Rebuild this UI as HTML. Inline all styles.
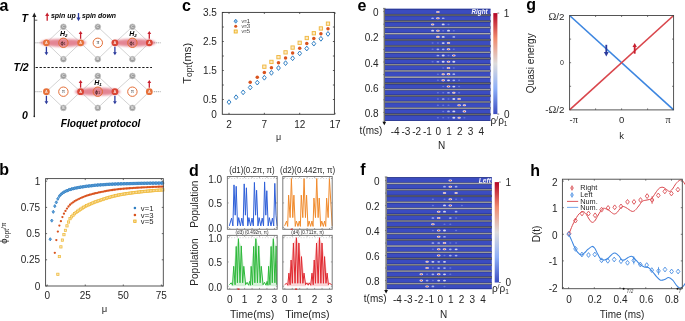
<!DOCTYPE html>
<html><head><meta charset="utf-8"><style>
html,body{margin:0;padding:0;background:#fff;width:685px;height:321px;overflow:hidden;}
svg{display:block;will-change:transform;font-family:"Liberation Sans",sans-serif;}
</style></head><body>
<svg width="685" height="321" viewBox="0 0 685 321">
<defs>
<filter id="blur1" x="-20%" y="-50%" width="140%" height="200%"><feGaussianBlur stdDeviation="1.2"/></filter>
<filter id="blur05" x="-50%" y="-50%" width="200%" height="200%"><feGaussianBlur stdDeviation="0.5"/></filter>
<linearGradient id="cbar" x1="0" y1="0" x2="0" y2="1">
<stop offset="0" stop-color="#b40426"/><stop offset="0.25" stop-color="#f08b6e"/><stop offset="0.5" stop-color="#dddcdc"/><stop offset="0.75" stop-color="#8caff8"/><stop offset="1" stop-color="#3b4cc0"/>
</linearGradient>
</defs>
<text x="-0.50" y="10.60" font-size="16" text-anchor="start" font-weight="bold" font-style="normal" fill="#000" >a</text>
<text x="-0.80" y="174.80" font-size="16" text-anchor="start" font-weight="bold" font-style="normal" fill="#000" >b</text>
<text x="182.00" y="10.50" font-size="16" text-anchor="start" font-weight="bold" font-style="normal" fill="#000" >c</text>
<text x="189.00" y="175.80" font-size="16" text-anchor="start" font-weight="bold" font-style="normal" fill="#000" >d</text>
<text x="357.50" y="11.00" font-size="16" text-anchor="start" font-weight="bold" font-style="normal" fill="#000" >e</text>
<text x="360.30" y="174.60" font-size="16" text-anchor="start" font-weight="bold" font-style="normal" fill="#000" >f</text>
<text x="526.30" y="9.50" font-size="16" text-anchor="start" font-weight="bold" font-style="normal" fill="#000" >g</text>
<text x="530.30" y="176.00" font-size="16" text-anchor="start" font-weight="bold" font-style="normal" fill="#000" >h</text>
<line x1="34.30" y1="116.40" x2="34.30" y2="15.50" stroke="#222" stroke-width="1.1" />
<path d="M32.199999999999996,16.9 L34.3,12.6 L36.4,16.9 Z" stroke="none" fill="#222" stroke-width="1" />
<circle cx="34.30" cy="116.40" r="0.80" fill="#222" stroke="none" stroke-width="1" />
<line x1="34.30" y1="20.20" x2="37.30" y2="20.20" stroke="#333" stroke-width="0.8" />
<text x="21.60" y="21.80" font-size="10.5" text-anchor="start" font-weight="bold" font-style="italic" fill="#000" >T</text>
<text x="13.50" y="71.00" font-size="10.5" text-anchor="start" font-weight="bold" font-style="italic" fill="#000" >T/2</text>
<text x="22.00" y="118.60" font-size="10.5" text-anchor="start" font-weight="bold" font-style="italic" fill="#000" >0</text>
<line x1="35.60" y1="67.50" x2="152.00" y2="67.50" stroke="#1a1a1a" stroke-width="1.0" stroke-dasharray="2.3,1.65"/>
<line x1="47.20" y1="20.80" x2="47.20" y2="15.28" stroke="#c8202f" stroke-width="1.3" />
<path d="M45.20,16.00 L47.20,12.40 L49.20,16.00 Z" stroke="none" fill="#c8202f" stroke-width="1" />
<text x="50.90" y="17.90" font-size="7.0" text-anchor="start" font-weight="bold" font-style="italic" fill="#000" >spin up</text>
<line x1="78.50" y1="13.00" x2="78.50" y2="18.32" stroke="#2b3a9c" stroke-width="1.3" />
<path d="M76.50,17.60 L78.50,21.20 L80.50,17.60 Z" stroke="none" fill="#2b3a9c" stroke-width="1" />
<text x="81.90" y="17.90" font-size="6.9" text-anchor="start" font-weight="bold" font-style="italic" fill="#000" >spin down</text>
<path d="M46.4,42.8 L63.4,26.8 L80.6,42.8 L63.4,59.2 Z" stroke="#c8c8c8" fill="none" stroke-width="0.8" />
<path d="M80.6,42.8 L97.8,26.8 L114.9,42.8 L97.8,59.2 Z" stroke="#c8c8c8" fill="none" stroke-width="0.8" />
<path d="M114.9,42.8 L132.4,26.8 L149.3,42.8 L132.4,59.2 Z" stroke="#c8c8c8" fill="none" stroke-width="0.8" />
<line x1="35.50" y1="42.80" x2="42.00" y2="42.80" stroke="#555" stroke-width="0.7" stroke-dasharray="0.9,1.1"/>
<line x1="153.80" y1="42.80" x2="160.50" y2="42.80" stroke="#555" stroke-width="0.7" stroke-dasharray="0.9,1.1"/>
<ellipse cx="63.2" cy="42.8" rx="23.0" ry="3.9" fill="#dc6476" opacity="0.78" filter="url(#blur1)"/>
<ellipse cx="133.6" cy="42.8" rx="22.0" ry="3.9" fill="#dc6476" opacity="0.78" filter="url(#blur1)"/>
<circle cx="63.40" cy="26.80" r="2.90" fill="#9c9c9c" stroke="#c4c4c4" stroke-width="0.7" />
<text x="63.40" y="28.00" font-size="3.4" text-anchor="middle" font-weight="bold" font-style="normal" fill="#eeeeee" >C</text>
<circle cx="63.40" cy="59.20" r="2.90" fill="#9c9c9c" stroke="#c4c4c4" stroke-width="0.7" />
<text x="63.40" y="60.40" font-size="3.4" text-anchor="middle" font-weight="bold" font-style="normal" fill="#eeeeee" >B</text>
<circle cx="97.80" cy="26.80" r="2.90" fill="#9c9c9c" stroke="#c4c4c4" stroke-width="0.7" />
<text x="97.80" y="28.00" font-size="3.4" text-anchor="middle" font-weight="bold" font-style="normal" fill="#eeeeee" >C</text>
<circle cx="97.80" cy="59.20" r="2.90" fill="#9c9c9c" stroke="#c4c4c4" stroke-width="0.7" />
<text x="97.80" y="60.40" font-size="3.4" text-anchor="middle" font-weight="bold" font-style="normal" fill="#eeeeee" >B</text>
<circle cx="132.40" cy="26.80" r="2.90" fill="#9c9c9c" stroke="#c4c4c4" stroke-width="0.7" />
<text x="132.40" y="28.00" font-size="3.4" text-anchor="middle" font-weight="bold" font-style="normal" fill="#eeeeee" >C</text>
<circle cx="132.40" cy="59.20" r="2.90" fill="#9c9c9c" stroke="#c4c4c4" stroke-width="0.7" />
<text x="132.40" y="60.40" font-size="3.4" text-anchor="middle" font-weight="bold" font-style="normal" fill="#eeeeee" >B</text>
<circle cx="63.40" cy="42.80" r="4.70" fill="#e07c86" stroke="#e2682f" stroke-width="0.95" fill-opacity="0.5"/>
<text x="63.00" y="44.70" font-size="5.8" text-anchor="middle" font-weight="normal" font-style="normal" fill="#2a1010" >ϕ<tspan font-size="3.2" dy="0.4">1</tspan></text>
<circle cx="97.80" cy="42.80" r="4.70" fill="#fff" stroke="#e2682f" stroke-width="0.95" />
<text x="97.80" y="44.30" font-size="5.6" text-anchor="middle" font-weight="normal" font-style="normal" fill="#333" font-family="Liberation Serif">π</text>
<circle cx="132.40" cy="42.80" r="4.70" fill="#e07c86" stroke="#e2682f" stroke-width="0.95" fill-opacity="0.5"/>
<text x="132.00" y="44.70" font-size="5.8" text-anchor="middle" font-weight="normal" font-style="normal" fill="#2a1010" >ϕ<tspan font-size="3.2" dy="0.4">1</tspan></text>
<circle cx="46.40" cy="42.80" r="3.40" fill="#e6713b" stroke="none" stroke-width="1" />
<text x="46.40" y="44.10" font-size="3.8" text-anchor="middle" font-weight="bold" font-style="normal" fill="#fbe3da" >A</text>
<circle cx="80.60" cy="42.80" r="3.40" fill="#e6713b" stroke="none" stroke-width="1" />
<text x="80.60" y="44.10" font-size="3.8" text-anchor="middle" font-weight="bold" font-style="normal" fill="#fbe3da" >A</text>
<circle cx="114.90" cy="42.80" r="3.40" fill="#da4636" stroke="none" stroke-width="1" />
<text x="114.90" y="44.10" font-size="3.8" text-anchor="middle" font-weight="bold" font-style="normal" fill="#fbe3da" >A</text>
<circle cx="149.30" cy="42.80" r="3.40" fill="#da4636" stroke="none" stroke-width="1" />
<text x="149.30" y="44.10" font-size="3.8" text-anchor="middle" font-weight="bold" font-style="normal" fill="#fbe3da" >A</text>
<line x1="46.40" y1="46.80" x2="46.40" y2="52.90" stroke="#2b3a9c" stroke-width="1.3" />
<path d="M44.50,52.30 L46.40,55.30 L48.30,52.30 Z" stroke="none" fill="#2b3a9c" stroke-width="1" />
<line x1="80.60" y1="38.80" x2="80.60" y2="33.40" stroke="#c8202f" stroke-width="1.3" />
<path d="M78.70,34.00 L80.60,31.00 L82.50,34.00 Z" stroke="none" fill="#c8202f" stroke-width="1" />
<line x1="114.90" y1="46.80" x2="114.90" y2="52.90" stroke="#2b3a9c" stroke-width="1.3" />
<path d="M113.00,52.30 L114.90,55.30 L116.80,52.30 Z" stroke="none" fill="#2b3a9c" stroke-width="1" />
<line x1="149.30" y1="38.80" x2="149.30" y2="33.40" stroke="#c8202f" stroke-width="1.3" />
<path d="M147.40,34.00 L149.30,31.00 L151.20,34.00 Z" stroke="none" fill="#c8202f" stroke-width="1" />
<path d="M46.4,91.7 L63.4,76.0 L80.6,91.7 L63.4,107.9 Z" stroke="#c8c8c8" fill="none" stroke-width="0.8" />
<path d="M80.6,91.7 L97.8,76.0 L114.9,91.7 L97.8,107.9 Z" stroke="#c8c8c8" fill="none" stroke-width="0.8" />
<path d="M114.9,91.7 L132.4,76.0 L149.3,91.7 L132.4,107.9 Z" stroke="#c8c8c8" fill="none" stroke-width="0.8" />
<line x1="35.50" y1="91.70" x2="42.00" y2="91.70" stroke="#555" stroke-width="0.7" stroke-dasharray="0.9,1.1"/>
<line x1="153.80" y1="91.70" x2="160.50" y2="91.70" stroke="#555" stroke-width="0.7" stroke-dasharray="0.9,1.1"/>
<ellipse cx="97.7" cy="91.7" rx="22.8" ry="3.9" fill="#dc6476" opacity="0.78" filter="url(#blur1)"/>
<circle cx="63.40" cy="76.00" r="2.90" fill="#9c9c9c" stroke="#c4c4c4" stroke-width="0.7" />
<text x="63.40" y="77.20" font-size="3.4" text-anchor="middle" font-weight="bold" font-style="normal" fill="#eeeeee" >C</text>
<circle cx="63.40" cy="107.90" r="2.90" fill="#9c9c9c" stroke="#c4c4c4" stroke-width="0.7" />
<text x="63.40" y="109.10" font-size="3.4" text-anchor="middle" font-weight="bold" font-style="normal" fill="#eeeeee" >B</text>
<circle cx="97.80" cy="76.00" r="2.90" fill="#9c9c9c" stroke="#c4c4c4" stroke-width="0.7" />
<text x="97.80" y="77.20" font-size="3.4" text-anchor="middle" font-weight="bold" font-style="normal" fill="#eeeeee" >C</text>
<circle cx="97.80" cy="107.90" r="2.90" fill="#9c9c9c" stroke="#c4c4c4" stroke-width="0.7" />
<text x="97.80" y="109.10" font-size="3.4" text-anchor="middle" font-weight="bold" font-style="normal" fill="#eeeeee" >B</text>
<circle cx="132.40" cy="76.00" r="2.90" fill="#9c9c9c" stroke="#c4c4c4" stroke-width="0.7" />
<text x="132.40" y="77.20" font-size="3.4" text-anchor="middle" font-weight="bold" font-style="normal" fill="#eeeeee" >C</text>
<circle cx="132.40" cy="107.90" r="2.90" fill="#9c9c9c" stroke="#c4c4c4" stroke-width="0.7" />
<text x="132.40" y="109.10" font-size="3.4" text-anchor="middle" font-weight="bold" font-style="normal" fill="#eeeeee" >B</text>
<circle cx="63.40" cy="91.70" r="4.70" fill="#fff" stroke="#e2682f" stroke-width="0.95" />
<text x="63.40" y="93.20" font-size="5.6" text-anchor="middle" font-weight="normal" font-style="normal" fill="#333" font-family="Liberation Serif">π</text>
<circle cx="97.80" cy="91.70" r="4.70" fill="#e07c86" stroke="#e2682f" stroke-width="0.95" fill-opacity="0.5"/>
<text x="97.40" y="93.60" font-size="5.8" text-anchor="middle" font-weight="normal" font-style="normal" fill="#2a1010" >ϕ<tspan font-size="3.2" dy="0.4">1</tspan></text>
<circle cx="132.40" cy="91.70" r="4.70" fill="#fff" stroke="#e2682f" stroke-width="0.95" />
<text x="132.40" y="93.20" font-size="5.6" text-anchor="middle" font-weight="normal" font-style="normal" fill="#333" font-family="Liberation Serif">π</text>
<circle cx="46.40" cy="91.70" r="3.40" fill="#e6713b" stroke="none" stroke-width="1" />
<text x="46.40" y="93.00" font-size="3.8" text-anchor="middle" font-weight="bold" font-style="normal" fill="#fbe3da" >A</text>
<circle cx="80.60" cy="91.70" r="3.40" fill="#da4636" stroke="none" stroke-width="1" />
<text x="80.60" y="93.00" font-size="3.8" text-anchor="middle" font-weight="bold" font-style="normal" fill="#fbe3da" >A</text>
<circle cx="114.90" cy="91.70" r="3.40" fill="#da4636" stroke="none" stroke-width="1" />
<text x="114.90" y="93.00" font-size="3.8" text-anchor="middle" font-weight="bold" font-style="normal" fill="#fbe3da" >A</text>
<circle cx="149.30" cy="91.70" r="3.40" fill="#e6713b" stroke="none" stroke-width="1" />
<text x="149.30" y="93.00" font-size="3.8" text-anchor="middle" font-weight="bold" font-style="normal" fill="#fbe3da" >A</text>
<line x1="46.40" y1="95.70" x2="46.40" y2="101.80" stroke="#2b3a9c" stroke-width="1.3" />
<path d="M44.50,101.20 L46.40,104.20 L48.30,101.20 Z" stroke="none" fill="#2b3a9c" stroke-width="1" />
<line x1="80.60" y1="87.70" x2="80.60" y2="82.30" stroke="#c8202f" stroke-width="1.3" />
<path d="M78.70,82.90 L80.60,79.90 L82.50,82.90 Z" stroke="none" fill="#c8202f" stroke-width="1" />
<line x1="114.90" y1="95.70" x2="114.90" y2="101.80" stroke="#2b3a9c" stroke-width="1.3" />
<path d="M113.00,101.20 L114.90,104.20 L116.80,101.20 Z" stroke="none" fill="#2b3a9c" stroke-width="1" />
<line x1="149.30" y1="87.70" x2="149.30" y2="82.30" stroke="#c8202f" stroke-width="1.3" />
<path d="M147.40,82.90 L149.30,79.90 L151.20,82.90 Z" stroke="none" fill="#c8202f" stroke-width="1" />
<text x="59.90" y="35.70" font-size="7.0" text-anchor="start" font-weight="bold" font-style="italic" fill="#000" >H<tspan font-size="4.4" dy="1.2">2</tspan></text>
<text x="129.30" y="35.70" font-size="7.0" text-anchor="start" font-weight="bold" font-style="italic" fill="#000" >H<tspan font-size="4.4" dy="1.2">2</tspan></text>
<text x="94.20" y="85.10" font-size="7.0" text-anchor="start" font-weight="bold" font-style="italic" fill="#000" >H<tspan font-size="4.4" dy="1.2">1</tspan></text>
<text x="60.80" y="126.60" font-size="10.1" text-anchor="start" font-weight="bold" font-style="italic" fill="#000" >Floquet protocol</text>
<rect x="56.70" y="273.17" width="2.30" height="2.30" fill="#fae6bb" stroke="#efbb3c" stroke-width="0.75" />
<rect x="58.23" y="255.37" width="2.30" height="2.30" fill="#fae6bb" stroke="#efbb3c" stroke-width="0.75" />
<rect x="59.75" y="245.72" width="2.30" height="2.30" fill="#fae6bb" stroke="#efbb3c" stroke-width="0.75" />
<rect x="61.27" y="238.95" width="2.30" height="2.30" fill="#fae6bb" stroke="#efbb3c" stroke-width="0.75" />
<rect x="62.79" y="233.50" width="2.30" height="2.30" fill="#fae6bb" stroke="#efbb3c" stroke-width="0.75" />
<rect x="64.31" y="229.22" width="2.30" height="2.30" fill="#fae6bb" stroke="#efbb3c" stroke-width="0.75" />
<rect x="65.84" y="224.71" width="2.30" height="2.30" fill="#fae6bb" stroke="#efbb3c" stroke-width="0.75" />
<rect x="67.36" y="220.85" width="2.30" height="2.30" fill="#fae6bb" stroke="#efbb3c" stroke-width="0.75" />
<rect x="68.88" y="217.50" width="2.30" height="2.30" fill="#fae6bb" stroke="#efbb3c" stroke-width="0.75" />
<rect x="70.40" y="215.64" width="2.30" height="2.30" fill="#fae6bb" stroke="#efbb3c" stroke-width="0.75" />
<rect x="71.92" y="214.01" width="2.30" height="2.30" fill="#fae6bb" stroke="#efbb3c" stroke-width="0.75" />
<rect x="73.45" y="212.55" width="2.30" height="2.30" fill="#fae6bb" stroke="#efbb3c" stroke-width="0.75" />
<rect x="74.97" y="211.25" width="2.30" height="2.30" fill="#fae6bb" stroke="#efbb3c" stroke-width="0.75" />
<rect x="76.49" y="210.08" width="2.30" height="2.30" fill="#fae6bb" stroke="#efbb3c" stroke-width="0.75" />
<rect x="78.01" y="209.02" width="2.30" height="2.30" fill="#fae6bb" stroke="#efbb3c" stroke-width="0.75" />
<rect x="79.53" y="208.01" width="2.30" height="2.30" fill="#fae6bb" stroke="#efbb3c" stroke-width="0.75" />
<rect x="81.06" y="207.01" width="2.30" height="2.30" fill="#fae6bb" stroke="#efbb3c" stroke-width="0.75" />
<rect x="82.58" y="206.10" width="2.30" height="2.30" fill="#fae6bb" stroke="#efbb3c" stroke-width="0.75" />
<rect x="84.10" y="205.25" width="2.30" height="2.30" fill="#fae6bb" stroke="#efbb3c" stroke-width="0.75" />
<rect x="85.62" y="204.48" width="2.30" height="2.30" fill="#fae6bb" stroke="#efbb3c" stroke-width="0.75" />
<rect x="87.14" y="203.76" width="2.30" height="2.30" fill="#fae6bb" stroke="#efbb3c" stroke-width="0.75" />
<rect x="88.67" y="203.09" width="2.30" height="2.30" fill="#fae6bb" stroke="#efbb3c" stroke-width="0.75" />
<rect x="90.19" y="202.42" width="2.30" height="2.30" fill="#fae6bb" stroke="#efbb3c" stroke-width="0.75" />
<rect x="91.71" y="201.76" width="2.30" height="2.30" fill="#fae6bb" stroke="#efbb3c" stroke-width="0.75" />
<rect x="93.23" y="201.15" width="2.30" height="2.30" fill="#fae6bb" stroke="#efbb3c" stroke-width="0.75" />
<rect x="94.75" y="200.58" width="2.30" height="2.30" fill="#fae6bb" stroke="#efbb3c" stroke-width="0.75" />
<rect x="96.28" y="200.05" width="2.30" height="2.30" fill="#fae6bb" stroke="#efbb3c" stroke-width="0.75" />
<rect x="97.80" y="199.54" width="2.30" height="2.30" fill="#fae6bb" stroke="#efbb3c" stroke-width="0.75" />
<rect x="99.32" y="199.06" width="2.30" height="2.30" fill="#fae6bb" stroke="#efbb3c" stroke-width="0.75" />
<rect x="100.84" y="198.50" width="2.30" height="2.30" fill="#fae6bb" stroke="#efbb3c" stroke-width="0.75" />
<rect x="102.36" y="197.96" width="2.30" height="2.30" fill="#fae6bb" stroke="#efbb3c" stroke-width="0.75" />
<rect x="103.89" y="197.45" width="2.30" height="2.30" fill="#fae6bb" stroke="#efbb3c" stroke-width="0.75" />
<rect x="105.41" y="196.97" width="2.30" height="2.30" fill="#fae6bb" stroke="#efbb3c" stroke-width="0.75" />
<rect x="106.93" y="196.52" width="2.30" height="2.30" fill="#fae6bb" stroke="#efbb3c" stroke-width="0.75" />
<rect x="108.45" y="196.08" width="2.30" height="2.30" fill="#fae6bb" stroke="#efbb3c" stroke-width="0.75" />
<rect x="109.97" y="195.67" width="2.30" height="2.30" fill="#fae6bb" stroke="#efbb3c" stroke-width="0.75" />
<rect x="111.50" y="195.27" width="2.30" height="2.30" fill="#fae6bb" stroke="#efbb3c" stroke-width="0.75" />
<rect x="113.02" y="194.89" width="2.30" height="2.30" fill="#fae6bb" stroke="#efbb3c" stroke-width="0.75" />
<rect x="114.54" y="194.53" width="2.30" height="2.30" fill="#fae6bb" stroke="#efbb3c" stroke-width="0.75" />
<rect x="116.06" y="194.19" width="2.30" height="2.30" fill="#fae6bb" stroke="#efbb3c" stroke-width="0.75" />
<rect x="117.58" y="193.86" width="2.30" height="2.30" fill="#fae6bb" stroke="#efbb3c" stroke-width="0.75" />
<rect x="119.11" y="193.54" width="2.30" height="2.30" fill="#fae6bb" stroke="#efbb3c" stroke-width="0.75" />
<rect x="120.63" y="193.28" width="2.30" height="2.30" fill="#fae6bb" stroke="#efbb3c" stroke-width="0.75" />
<rect x="122.15" y="193.02" width="2.30" height="2.30" fill="#fae6bb" stroke="#efbb3c" stroke-width="0.75" />
<rect x="123.67" y="192.78" width="2.30" height="2.30" fill="#fae6bb" stroke="#efbb3c" stroke-width="0.75" />
<rect x="125.19" y="192.54" width="2.30" height="2.30" fill="#fae6bb" stroke="#efbb3c" stroke-width="0.75" />
<rect x="126.72" y="192.31" width="2.30" height="2.30" fill="#fae6bb" stroke="#efbb3c" stroke-width="0.75" />
<rect x="128.24" y="192.09" width="2.30" height="2.30" fill="#fae6bb" stroke="#efbb3c" stroke-width="0.75" />
<rect x="129.76" y="191.88" width="2.30" height="2.30" fill="#fae6bb" stroke="#efbb3c" stroke-width="0.75" />
<rect x="131.28" y="191.68" width="2.30" height="2.30" fill="#fae6bb" stroke="#efbb3c" stroke-width="0.75" />
<rect x="132.80" y="191.48" width="2.30" height="2.30" fill="#fae6bb" stroke="#efbb3c" stroke-width="0.75" />
<rect x="134.33" y="191.29" width="2.30" height="2.30" fill="#fae6bb" stroke="#efbb3c" stroke-width="0.75" />
<rect x="135.85" y="191.11" width="2.30" height="2.30" fill="#fae6bb" stroke="#efbb3c" stroke-width="0.75" />
<rect x="137.37" y="190.93" width="2.30" height="2.30" fill="#fae6bb" stroke="#efbb3c" stroke-width="0.75" />
<rect x="138.89" y="190.76" width="2.30" height="2.30" fill="#fae6bb" stroke="#efbb3c" stroke-width="0.75" />
<rect x="140.41" y="190.60" width="2.30" height="2.30" fill="#fae6bb" stroke="#efbb3c" stroke-width="0.75" />
<rect x="141.94" y="190.44" width="2.30" height="2.30" fill="#fae6bb" stroke="#efbb3c" stroke-width="0.75" />
<rect x="143.46" y="190.28" width="2.30" height="2.30" fill="#fae6bb" stroke="#efbb3c" stroke-width="0.75" />
<rect x="144.98" y="190.13" width="2.30" height="2.30" fill="#fae6bb" stroke="#efbb3c" stroke-width="0.75" />
<rect x="146.50" y="189.99" width="2.30" height="2.30" fill="#fae6bb" stroke="#efbb3c" stroke-width="0.75" />
<rect x="148.02" y="189.84" width="2.30" height="2.30" fill="#fae6bb" stroke="#efbb3c" stroke-width="0.75" />
<rect x="149.55" y="189.71" width="2.30" height="2.30" fill="#fae6bb" stroke="#efbb3c" stroke-width="0.75" />
<rect x="151.07" y="189.57" width="2.30" height="2.30" fill="#fae6bb" stroke="#efbb3c" stroke-width="0.75" />
<rect x="152.59" y="189.44" width="2.30" height="2.30" fill="#fae6bb" stroke="#efbb3c" stroke-width="0.75" />
<rect x="154.11" y="189.32" width="2.30" height="2.30" fill="#fae6bb" stroke="#efbb3c" stroke-width="0.75" />
<rect x="155.63" y="189.20" width="2.30" height="2.30" fill="#fae6bb" stroke="#efbb3c" stroke-width="0.75" />
<rect x="157.16" y="189.08" width="2.30" height="2.30" fill="#fae6bb" stroke="#efbb3c" stroke-width="0.75" />
<rect x="158.68" y="188.96" width="2.30" height="2.30" fill="#fae6bb" stroke="#efbb3c" stroke-width="0.75" />
<rect x="160.20" y="188.85" width="2.30" height="2.30" fill="#fae6bb" stroke="#efbb3c" stroke-width="0.75" />
<rect x="161.72" y="188.74" width="2.30" height="2.30" fill="#fae6bb" stroke="#efbb3c" stroke-width="0.75" />
<circle cx="54.81" cy="252.78" r="1.15" fill="#d9531e" stroke="none" stroke-width="1" />
<circle cx="56.33" cy="240.10" r="1.15" fill="#d9531e" stroke="none" stroke-width="1" />
<circle cx="57.85" cy="231.61" r="1.15" fill="#d9531e" stroke="none" stroke-width="1" />
<circle cx="59.38" cy="225.53" r="1.15" fill="#d9531e" stroke="none" stroke-width="1" />
<circle cx="60.90" cy="221.13" r="1.15" fill="#d9531e" stroke="none" stroke-width="1" />
<circle cx="62.42" cy="217.03" r="1.15" fill="#d9531e" stroke="none" stroke-width="1" />
<circle cx="63.94" cy="213.68" r="1.15" fill="#d9531e" stroke="none" stroke-width="1" />
<circle cx="65.46" cy="210.89" r="1.15" fill="#d9531e" stroke="none" stroke-width="1" />
<circle cx="66.99" cy="208.53" r="1.15" fill="#d9531e" stroke="none" stroke-width="1" />
<circle cx="68.51" cy="206.50" r="1.15" fill="#d9531e" stroke="none" stroke-width="1" />
<circle cx="70.03" cy="204.75" r="1.15" fill="#d9531e" stroke="none" stroke-width="1" />
<circle cx="71.55" cy="203.44" r="1.15" fill="#d9531e" stroke="none" stroke-width="1" />
<circle cx="73.07" cy="202.29" r="1.15" fill="#d9531e" stroke="none" stroke-width="1" />
<circle cx="74.60" cy="201.27" r="1.15" fill="#d9531e" stroke="none" stroke-width="1" />
<circle cx="76.12" cy="200.36" r="1.15" fill="#d9531e" stroke="none" stroke-width="1" />
<circle cx="77.64" cy="199.53" r="1.15" fill="#d9531e" stroke="none" stroke-width="1" />
<circle cx="79.16" cy="198.79" r="1.15" fill="#d9531e" stroke="none" stroke-width="1" />
<circle cx="80.68" cy="198.09" r="1.15" fill="#d9531e" stroke="none" stroke-width="1" />
<circle cx="82.21" cy="197.41" r="1.15" fill="#d9531e" stroke="none" stroke-width="1" />
<circle cx="83.73" cy="196.78" r="1.15" fill="#d9531e" stroke="none" stroke-width="1" />
<circle cx="85.25" cy="196.21" r="1.15" fill="#d9531e" stroke="none" stroke-width="1" />
<circle cx="86.77" cy="195.68" r="1.15" fill="#d9531e" stroke="none" stroke-width="1" />
<circle cx="88.29" cy="195.19" r="1.15" fill="#d9531e" stroke="none" stroke-width="1" />
<circle cx="89.82" cy="194.74" r="1.15" fill="#d9531e" stroke="none" stroke-width="1" />
<circle cx="91.34" cy="194.30" r="1.15" fill="#d9531e" stroke="none" stroke-width="1" />
<circle cx="92.86" cy="193.88" r="1.15" fill="#d9531e" stroke="none" stroke-width="1" />
<circle cx="94.38" cy="193.49" r="1.15" fill="#d9531e" stroke="none" stroke-width="1" />
<circle cx="95.90" cy="193.13" r="1.15" fill="#d9531e" stroke="none" stroke-width="1" />
<circle cx="97.43" cy="192.79" r="1.15" fill="#d9531e" stroke="none" stroke-width="1" />
<circle cx="98.95" cy="192.46" r="1.15" fill="#d9531e" stroke="none" stroke-width="1" />
<circle cx="100.47" cy="192.16" r="1.15" fill="#d9531e" stroke="none" stroke-width="1" />
<circle cx="101.99" cy="191.83" r="1.15" fill="#d9531e" stroke="none" stroke-width="1" />
<circle cx="103.51" cy="191.53" r="1.15" fill="#d9531e" stroke="none" stroke-width="1" />
<circle cx="105.04" cy="191.24" r="1.15" fill="#d9531e" stroke="none" stroke-width="1" />
<circle cx="106.56" cy="190.96" r="1.15" fill="#d9531e" stroke="none" stroke-width="1" />
<circle cx="108.08" cy="190.70" r="1.15" fill="#d9531e" stroke="none" stroke-width="1" />
<circle cx="109.60" cy="190.45" r="1.15" fill="#d9531e" stroke="none" stroke-width="1" />
<circle cx="111.12" cy="190.21" r="1.15" fill="#d9531e" stroke="none" stroke-width="1" />
<circle cx="112.65" cy="189.99" r="1.15" fill="#d9531e" stroke="none" stroke-width="1" />
<circle cx="114.17" cy="189.77" r="1.15" fill="#d9531e" stroke="none" stroke-width="1" />
<circle cx="115.69" cy="189.56" r="1.15" fill="#d9531e" stroke="none" stroke-width="1" />
<circle cx="117.21" cy="189.36" r="1.15" fill="#d9531e" stroke="none" stroke-width="1" />
<circle cx="118.73" cy="189.18" r="1.15" fill="#d9531e" stroke="none" stroke-width="1" />
<circle cx="120.26" cy="188.99" r="1.15" fill="#d9531e" stroke="none" stroke-width="1" />
<circle cx="121.78" cy="188.86" r="1.15" fill="#d9531e" stroke="none" stroke-width="1" />
<circle cx="123.30" cy="188.73" r="1.15" fill="#d9531e" stroke="none" stroke-width="1" />
<circle cx="124.82" cy="188.61" r="1.15" fill="#d9531e" stroke="none" stroke-width="1" />
<circle cx="126.34" cy="188.49" r="1.15" fill="#d9531e" stroke="none" stroke-width="1" />
<circle cx="127.87" cy="188.38" r="1.15" fill="#d9531e" stroke="none" stroke-width="1" />
<circle cx="129.39" cy="188.27" r="1.15" fill="#d9531e" stroke="none" stroke-width="1" />
<circle cx="130.91" cy="188.16" r="1.15" fill="#d9531e" stroke="none" stroke-width="1" />
<circle cx="132.43" cy="188.06" r="1.15" fill="#d9531e" stroke="none" stroke-width="1" />
<circle cx="133.95" cy="187.96" r="1.15" fill="#d9531e" stroke="none" stroke-width="1" />
<circle cx="135.48" cy="187.86" r="1.15" fill="#d9531e" stroke="none" stroke-width="1" />
<circle cx="137.00" cy="187.77" r="1.15" fill="#d9531e" stroke="none" stroke-width="1" />
<circle cx="138.52" cy="187.68" r="1.15" fill="#d9531e" stroke="none" stroke-width="1" />
<circle cx="140.04" cy="187.60" r="1.15" fill="#d9531e" stroke="none" stroke-width="1" />
<circle cx="141.56" cy="187.51" r="1.15" fill="#d9531e" stroke="none" stroke-width="1" />
<circle cx="143.09" cy="187.43" r="1.15" fill="#d9531e" stroke="none" stroke-width="1" />
<circle cx="144.61" cy="187.35" r="1.15" fill="#d9531e" stroke="none" stroke-width="1" />
<circle cx="146.13" cy="187.28" r="1.15" fill="#d9531e" stroke="none" stroke-width="1" />
<circle cx="147.65" cy="187.21" r="1.15" fill="#d9531e" stroke="none" stroke-width="1" />
<circle cx="149.17" cy="187.13" r="1.15" fill="#d9531e" stroke="none" stroke-width="1" />
<circle cx="150.70" cy="187.07" r="1.15" fill="#d9531e" stroke="none" stroke-width="1" />
<circle cx="152.22" cy="187.00" r="1.15" fill="#d9531e" stroke="none" stroke-width="1" />
<circle cx="153.74" cy="186.93" r="1.15" fill="#d9531e" stroke="none" stroke-width="1" />
<circle cx="155.26" cy="186.87" r="1.15" fill="#d9531e" stroke="none" stroke-width="1" />
<circle cx="156.78" cy="186.81" r="1.15" fill="#d9531e" stroke="none" stroke-width="1" />
<circle cx="158.31" cy="186.75" r="1.15" fill="#d9531e" stroke="none" stroke-width="1" />
<circle cx="159.83" cy="186.69" r="1.15" fill="#d9531e" stroke="none" stroke-width="1" />
<circle cx="161.35" cy="186.63" r="1.15" fill="#d9531e" stroke="none" stroke-width="1" />
<circle cx="162.87" cy="186.58" r="1.15" fill="#d9531e" stroke="none" stroke-width="1" />
<path d="M50.24,237.66 L51.44,239.26 L50.24,240.86 L49.04,239.26 Z" stroke="#2f7ec2" fill="#5d9fd8" stroke-width="0.8" />
<path d="M51.77,219.00 L52.97,220.60 L51.77,222.20 L50.57,220.60 Z" stroke="#2f7ec2" fill="#5d9fd8" stroke-width="0.8" />
<path d="M53.29,210.20 L54.49,211.80 L53.29,213.40 L52.09,211.80 Z" stroke="#2f7ec2" fill="#5d9fd8" stroke-width="0.8" />
<path d="M54.81,204.54 L56.01,206.14 L54.81,207.74 L53.61,206.14 Z" stroke="#2f7ec2" fill="#5d9fd8" stroke-width="0.8" />
<path d="M56.33,200.77 L57.53,202.37 L56.33,203.97 L55.13,202.37 Z" stroke="#2f7ec2" fill="#5d9fd8" stroke-width="0.8" />
<path d="M57.85,197.21 L59.05,198.81 L57.85,200.41 L56.65,198.81 Z" stroke="#2f7ec2" fill="#5d9fd8" stroke-width="0.8" />
<path d="M59.38,194.54 L60.58,196.14 L59.38,197.74 L58.18,196.14 Z" stroke="#2f7ec2" fill="#5d9fd8" stroke-width="0.8" />
<path d="M60.90,192.83 L62.10,194.43 L60.90,196.03 L59.70,194.43 Z" stroke="#2f7ec2" fill="#5d9fd8" stroke-width="0.8" />
<path d="M62.42,191.60 L63.62,193.20 L62.42,194.80 L61.22,193.20 Z" stroke="#2f7ec2" fill="#5d9fd8" stroke-width="0.8" />
<path d="M63.94,190.60 L65.14,192.20 L63.94,193.80 L62.74,192.20 Z" stroke="#2f7ec2" fill="#5d9fd8" stroke-width="0.8" />
<path d="M65.46,189.76 L66.66,191.36 L65.46,192.96 L64.26,191.36 Z" stroke="#2f7ec2" fill="#5d9fd8" stroke-width="0.8" />
<path d="M66.99,189.05 L68.19,190.65 L66.99,192.25 L65.79,190.65 Z" stroke="#2f7ec2" fill="#5d9fd8" stroke-width="0.8" />
<path d="M68.51,188.44 L69.71,190.04 L68.51,191.64 L67.31,190.04 Z" stroke="#2f7ec2" fill="#5d9fd8" stroke-width="0.8" />
<path d="M70.03,187.91 L71.23,189.51 L70.03,191.11 L68.83,189.51 Z" stroke="#2f7ec2" fill="#5d9fd8" stroke-width="0.8" />
<path d="M71.55,187.45 L72.75,189.05 L71.55,190.65 L70.35,189.05 Z" stroke="#2f7ec2" fill="#5d9fd8" stroke-width="0.8" />
<path d="M73.07,187.05 L74.27,188.65 L73.07,190.25 L71.87,188.65 Z" stroke="#2f7ec2" fill="#5d9fd8" stroke-width="0.8" />
<path d="M74.60,186.69 L75.80,188.29 L74.60,189.89 L73.40,188.29 Z" stroke="#2f7ec2" fill="#5d9fd8" stroke-width="0.8" />
<path d="M76.12,186.36 L77.32,187.96 L76.12,189.56 L74.92,187.96 Z" stroke="#2f7ec2" fill="#5d9fd8" stroke-width="0.8" />
<path d="M77.64,186.07 L78.84,187.67 L77.64,189.27 L76.44,187.67 Z" stroke="#2f7ec2" fill="#5d9fd8" stroke-width="0.8" />
<path d="M79.16,185.81 L80.36,187.41 L79.16,189.01 L77.96,187.41 Z" stroke="#2f7ec2" fill="#5d9fd8" stroke-width="0.8" />
<path d="M80.68,185.55 L81.88,187.15 L80.68,188.75 L79.48,187.15 Z" stroke="#2f7ec2" fill="#5d9fd8" stroke-width="0.8" />
<path d="M82.21,185.30 L83.41,186.90 L82.21,188.50 L81.01,186.90 Z" stroke="#2f7ec2" fill="#5d9fd8" stroke-width="0.8" />
<path d="M83.73,185.06 L84.93,186.66 L83.73,188.26 L82.53,186.66 Z" stroke="#2f7ec2" fill="#5d9fd8" stroke-width="0.8" />
<path d="M85.25,184.84 L86.45,186.44 L85.25,188.04 L84.05,186.44 Z" stroke="#2f7ec2" fill="#5d9fd8" stroke-width="0.8" />
<path d="M86.77,184.64 L87.97,186.24 L86.77,187.84 L85.57,186.24 Z" stroke="#2f7ec2" fill="#5d9fd8" stroke-width="0.8" />
<path d="M88.29,184.45 L89.49,186.05 L88.29,187.65 L87.09,186.05 Z" stroke="#2f7ec2" fill="#5d9fd8" stroke-width="0.8" />
<path d="M89.82,184.28 L91.02,185.88 L89.82,187.48 L88.62,185.88 Z" stroke="#2f7ec2" fill="#5d9fd8" stroke-width="0.8" />
<path d="M91.34,184.11 L92.54,185.71 L91.34,187.31 L90.14,185.71 Z" stroke="#2f7ec2" fill="#5d9fd8" stroke-width="0.8" />
<path d="M92.86,183.94 L94.06,185.54 L92.86,187.14 L91.66,185.54 Z" stroke="#2f7ec2" fill="#5d9fd8" stroke-width="0.8" />
<path d="M94.38,183.78 L95.58,185.38 L94.38,186.98 L93.18,185.38 Z" stroke="#2f7ec2" fill="#5d9fd8" stroke-width="0.8" />
<path d="M95.90,183.64 L97.10,185.24 L95.90,186.84 L94.70,185.24 Z" stroke="#2f7ec2" fill="#5d9fd8" stroke-width="0.8" />
<path d="M97.43,183.50 L98.63,185.10 L97.43,186.70 L96.23,185.10 Z" stroke="#2f7ec2" fill="#5d9fd8" stroke-width="0.8" />
<path d="M98.95,183.37 L100.15,184.97 L98.95,186.57 L97.75,184.97 Z" stroke="#2f7ec2" fill="#5d9fd8" stroke-width="0.8" />
<path d="M100.47,183.25 L101.67,184.85 L100.47,186.45 L99.27,184.85 Z" stroke="#2f7ec2" fill="#5d9fd8" stroke-width="0.8" />
<path d="M101.99,183.15 L103.19,184.75 L101.99,186.35 L100.79,184.75 Z" stroke="#2f7ec2" fill="#5d9fd8" stroke-width="0.8" />
<path d="M103.51,183.05 L104.71,184.65 L103.51,186.25 L102.31,184.65 Z" stroke="#2f7ec2" fill="#5d9fd8" stroke-width="0.8" />
<path d="M105.04,182.96 L106.24,184.56 L105.04,186.16 L103.84,184.56 Z" stroke="#2f7ec2" fill="#5d9fd8" stroke-width="0.8" />
<path d="M106.56,182.87 L107.76,184.47 L106.56,186.07 L105.36,184.47 Z" stroke="#2f7ec2" fill="#5d9fd8" stroke-width="0.8" />
<path d="M108.08,182.79 L109.28,184.39 L108.08,185.99 L106.88,184.39 Z" stroke="#2f7ec2" fill="#5d9fd8" stroke-width="0.8" />
<path d="M109.60,182.71 L110.80,184.31 L109.60,185.91 L108.40,184.31 Z" stroke="#2f7ec2" fill="#5d9fd8" stroke-width="0.8" />
<path d="M111.12,182.63 L112.32,184.23 L111.12,185.83 L109.92,184.23 Z" stroke="#2f7ec2" fill="#5d9fd8" stroke-width="0.8" />
<path d="M112.65,182.56 L113.85,184.16 L112.65,185.76 L111.45,184.16 Z" stroke="#2f7ec2" fill="#5d9fd8" stroke-width="0.8" />
<path d="M114.17,182.49 L115.37,184.09 L114.17,185.69 L112.97,184.09 Z" stroke="#2f7ec2" fill="#5d9fd8" stroke-width="0.8" />
<path d="M115.69,182.42 L116.89,184.02 L115.69,185.62 L114.49,184.02 Z" stroke="#2f7ec2" fill="#5d9fd8" stroke-width="0.8" />
<path d="M117.21,182.36 L118.41,183.96 L117.21,185.56 L116.01,183.96 Z" stroke="#2f7ec2" fill="#5d9fd8" stroke-width="0.8" />
<path d="M118.73,182.30 L119.93,183.90 L118.73,185.50 L117.53,183.90 Z" stroke="#2f7ec2" fill="#5d9fd8" stroke-width="0.8" />
<path d="M120.26,182.24 L121.46,183.84 L120.26,185.44 L119.06,183.84 Z" stroke="#2f7ec2" fill="#5d9fd8" stroke-width="0.8" />
<path d="M121.78,182.20 L122.98,183.80 L121.78,185.40 L120.58,183.80 Z" stroke="#2f7ec2" fill="#5d9fd8" stroke-width="0.8" />
<path d="M123.30,182.16 L124.50,183.76 L123.30,185.36 L122.10,183.76 Z" stroke="#2f7ec2" fill="#5d9fd8" stroke-width="0.8" />
<path d="M124.82,182.12 L126.02,183.72 L124.82,185.32 L123.62,183.72 Z" stroke="#2f7ec2" fill="#5d9fd8" stroke-width="0.8" />
<path d="M126.34,182.08 L127.54,183.68 L126.34,185.28 L125.14,183.68 Z" stroke="#2f7ec2" fill="#5d9fd8" stroke-width="0.8" />
<path d="M127.87,182.04 L129.07,183.64 L127.87,185.24 L126.67,183.64 Z" stroke="#2f7ec2" fill="#5d9fd8" stroke-width="0.8" />
<path d="M129.39,182.01 L130.59,183.61 L129.39,185.21 L128.19,183.61 Z" stroke="#2f7ec2" fill="#5d9fd8" stroke-width="0.8" />
<path d="M130.91,181.97 L132.11,183.57 L130.91,185.17 L129.71,183.57 Z" stroke="#2f7ec2" fill="#5d9fd8" stroke-width="0.8" />
<path d="M132.43,181.94 L133.63,183.54 L132.43,185.14 L131.23,183.54 Z" stroke="#2f7ec2" fill="#5d9fd8" stroke-width="0.8" />
<path d="M133.95,181.91 L135.15,183.51 L133.95,185.11 L132.75,183.51 Z" stroke="#2f7ec2" fill="#5d9fd8" stroke-width="0.8" />
<path d="M135.48,181.88 L136.68,183.48 L135.48,185.08 L134.28,183.48 Z" stroke="#2f7ec2" fill="#5d9fd8" stroke-width="0.8" />
<path d="M137.00,181.85 L138.20,183.45 L137.00,185.05 L135.80,183.45 Z" stroke="#2f7ec2" fill="#5d9fd8" stroke-width="0.8" />
<path d="M138.52,181.82 L139.72,183.42 L138.52,185.02 L137.32,183.42 Z" stroke="#2f7ec2" fill="#5d9fd8" stroke-width="0.8" />
<path d="M140.04,181.79 L141.24,183.39 L140.04,184.99 L138.84,183.39 Z" stroke="#2f7ec2" fill="#5d9fd8" stroke-width="0.8" />
<path d="M141.56,181.76 L142.76,183.36 L141.56,184.96 L140.36,183.36 Z" stroke="#2f7ec2" fill="#5d9fd8" stroke-width="0.8" />
<path d="M143.09,181.74 L144.29,183.34 L143.09,184.94 L141.89,183.34 Z" stroke="#2f7ec2" fill="#5d9fd8" stroke-width="0.8" />
<path d="M144.61,181.71 L145.81,183.31 L144.61,184.91 L143.41,183.31 Z" stroke="#2f7ec2" fill="#5d9fd8" stroke-width="0.8" />
<path d="M146.13,181.69 L147.33,183.29 L146.13,184.89 L144.93,183.29 Z" stroke="#2f7ec2" fill="#5d9fd8" stroke-width="0.8" />
<path d="M147.65,181.66 L148.85,183.26 L147.65,184.86 L146.45,183.26 Z" stroke="#2f7ec2" fill="#5d9fd8" stroke-width="0.8" />
<path d="M149.17,181.64 L150.37,183.24 L149.17,184.84 L147.97,183.24 Z" stroke="#2f7ec2" fill="#5d9fd8" stroke-width="0.8" />
<path d="M150.70,181.62 L151.90,183.22 L150.70,184.82 L149.50,183.22 Z" stroke="#2f7ec2" fill="#5d9fd8" stroke-width="0.8" />
<path d="M152.22,181.60 L153.42,183.20 L152.22,184.80 L151.02,183.20 Z" stroke="#2f7ec2" fill="#5d9fd8" stroke-width="0.8" />
<path d="M153.74,181.58 L154.94,183.18 L153.74,184.78 L152.54,183.18 Z" stroke="#2f7ec2" fill="#5d9fd8" stroke-width="0.8" />
<path d="M155.26,181.56 L156.46,183.16 L155.26,184.76 L154.06,183.16 Z" stroke="#2f7ec2" fill="#5d9fd8" stroke-width="0.8" />
<path d="M156.78,181.54 L157.98,183.14 L156.78,184.74 L155.58,183.14 Z" stroke="#2f7ec2" fill="#5d9fd8" stroke-width="0.8" />
<path d="M158.31,181.52 L159.51,183.12 L158.31,184.72 L157.11,183.12 Z" stroke="#2f7ec2" fill="#5d9fd8" stroke-width="0.8" />
<path d="M159.83,181.50 L161.03,183.10 L159.83,184.70 L158.63,183.10 Z" stroke="#2f7ec2" fill="#5d9fd8" stroke-width="0.8" />
<path d="M161.35,181.48 L162.55,183.08 L161.35,184.68 L160.15,183.08 Z" stroke="#2f7ec2" fill="#5d9fd8" stroke-width="0.8" />
<path d="M162.87,181.46 L164.07,183.06 L162.87,184.66 L161.67,183.06 Z" stroke="#2f7ec2" fill="#5d9fd8" stroke-width="0.8" />
<rect x="45.60" y="178.60" width="117.70" height="107.40" fill="none" stroke="#444" stroke-width="0.9" />
<line x1="47.20" y1="286.00" x2="47.20" y2="284.50" stroke="#444" stroke-width="0.8" />
<line x1="47.20" y1="178.60" x2="47.20" y2="180.10" stroke="#444" stroke-width="0.8" />
<text x="47.20" y="298.90" font-size="10" text-anchor="middle" font-weight="normal" font-style="normal" fill="#262626" >0</text>
<line x1="85.25" y1="286.00" x2="85.25" y2="284.50" stroke="#444" stroke-width="0.8" />
<line x1="85.25" y1="178.60" x2="85.25" y2="180.10" stroke="#444" stroke-width="0.8" />
<text x="85.25" y="298.90" font-size="10" text-anchor="middle" font-weight="normal" font-style="normal" fill="#262626" >25</text>
<line x1="123.30" y1="286.00" x2="123.30" y2="284.50" stroke="#444" stroke-width="0.8" />
<line x1="123.30" y1="178.60" x2="123.30" y2="180.10" stroke="#444" stroke-width="0.8" />
<text x="123.30" y="298.90" font-size="10" text-anchor="middle" font-weight="normal" font-style="normal" fill="#262626" >50</text>
<line x1="161.35" y1="286.00" x2="161.35" y2="284.50" stroke="#444" stroke-width="0.8" />
<line x1="161.35" y1="178.60" x2="161.35" y2="180.10" stroke="#444" stroke-width="0.8" />
<text x="161.35" y="298.90" font-size="10" text-anchor="middle" font-weight="normal" font-style="normal" fill="#262626" >75</text>
<line x1="45.60" y1="286.00" x2="47.10" y2="286.00" stroke="#444" stroke-width="0.8" />
<line x1="163.30" y1="286.00" x2="161.80" y2="286.00" stroke="#444" stroke-width="0.8" />
<text x="40.20" y="289.60" font-size="10" text-anchor="end" font-weight="normal" font-style="normal" fill="#262626" >0</text>
<line x1="45.60" y1="259.80" x2="47.10" y2="259.80" stroke="#444" stroke-width="0.8" />
<line x1="163.30" y1="259.80" x2="161.80" y2="259.80" stroke="#444" stroke-width="0.8" />
<text x="40.20" y="263.40" font-size="10" text-anchor="end" font-weight="normal" font-style="normal" fill="#262626" >0.25</text>
<line x1="45.60" y1="233.60" x2="47.10" y2="233.60" stroke="#444" stroke-width="0.8" />
<line x1="163.30" y1="233.60" x2="161.80" y2="233.60" stroke="#444" stroke-width="0.8" />
<text x="40.20" y="237.20" font-size="10" text-anchor="end" font-weight="normal" font-style="normal" fill="#262626" >0.5</text>
<line x1="45.60" y1="207.40" x2="47.10" y2="207.40" stroke="#444" stroke-width="0.8" />
<line x1="163.30" y1="207.40" x2="161.80" y2="207.40" stroke="#444" stroke-width="0.8" />
<text x="40.20" y="211.00" font-size="10" text-anchor="end" font-weight="normal" font-style="normal" fill="#262626" >0.75</text>
<line x1="45.60" y1="181.20" x2="47.10" y2="181.20" stroke="#444" stroke-width="0.8" />
<line x1="163.30" y1="181.20" x2="161.80" y2="181.20" stroke="#444" stroke-width="0.8" />
<text x="40.20" y="184.80" font-size="10" text-anchor="end" font-weight="normal" font-style="normal" fill="#262626" >1</text>
<circle cx="134.90" cy="208.00" r="1.30" fill="#2f7ec2" stroke="none" stroke-width="1" />
<circle cx="134.90" cy="215.00" r="1.30" fill="#d9531e" stroke="none" stroke-width="1" />
<rect x="133.70" y="220.00" width="2.40" height="2.40" fill="#f7dca0" stroke="#edb120" stroke-width="0.8" />
<text x="140.80" y="210.70" font-size="7.7" text-anchor="start" font-weight="normal" font-style="normal" fill="#262626" >v=1</text>
<text x="140.80" y="217.70" font-size="7.7" text-anchor="start" font-weight="normal" font-style="normal" fill="#262626" >v=3</text>
<text x="140.80" y="223.90" font-size="7.7" text-anchor="start" font-weight="normal" font-style="normal" fill="#262626" >v=5</text>
<text transform="translate(7.4,233.2) rotate(-90)" font-size="9.5" text-anchor="middle" fill="#262626">ϕ<tspan font-size="6.8" dy="1.6">opt</tspan><tspan dy="-3.4" font-size="7.5">/</tspan><tspan font-family="Liberation Serif" font-size="8">π</tspan></text>
<text x="104.60" y="311.60" font-size="9.5" text-anchor="middle" font-weight="normal" font-style="normal" fill="#262626" >μ</text>
<path d="M229.00,99.70 L230.90,102.10 L229.00,104.50 L227.10,102.10 Z" stroke="#2f7ec2" fill="none" stroke-width="1.0" />
<path d="M236.07,94.83 L237.97,97.23 L236.07,99.63 L234.17,97.23 Z" stroke="#2f7ec2" fill="none" stroke-width="1.0" />
<path d="M243.14,89.96 L245.04,92.36 L243.14,94.76 L241.24,92.36 Z" stroke="#2f7ec2" fill="none" stroke-width="1.0" />
<path d="M250.21,85.09 L252.11,87.49 L250.21,89.89 L248.31,87.49 Z" stroke="#2f7ec2" fill="none" stroke-width="1.0" />
<path d="M257.28,80.22 L259.18,82.62 L257.28,85.02 L255.38,82.62 Z" stroke="#2f7ec2" fill="none" stroke-width="1.0" />
<path d="M264.35,75.35 L266.25,77.75 L264.35,80.15 L262.45,77.75 Z" stroke="#2f7ec2" fill="none" stroke-width="1.0" />
<path d="M271.42,70.48 L273.32,72.88 L271.42,75.28 L269.52,72.88 Z" stroke="#2f7ec2" fill="none" stroke-width="1.0" />
<path d="M278.49,65.61 L280.39,68.01 L278.49,70.41 L276.59,68.01 Z" stroke="#2f7ec2" fill="none" stroke-width="1.0" />
<path d="M285.56,60.74 L287.46,63.14 L285.56,65.54 L283.66,63.14 Z" stroke="#2f7ec2" fill="none" stroke-width="1.0" />
<path d="M292.63,55.87 L294.53,58.27 L292.63,60.67 L290.73,58.27 Z" stroke="#2f7ec2" fill="none" stroke-width="1.0" />
<path d="M299.70,51.00 L301.60,53.40 L299.70,55.80 L297.80,53.40 Z" stroke="#2f7ec2" fill="none" stroke-width="1.0" />
<path d="M306.77,46.13 L308.67,48.53 L306.77,50.93 L304.87,48.53 Z" stroke="#2f7ec2" fill="none" stroke-width="1.0" />
<path d="M313.84,41.26 L315.74,43.66 L313.84,46.06 L311.94,43.66 Z" stroke="#2f7ec2" fill="none" stroke-width="1.0" />
<path d="M320.91,36.39 L322.81,38.79 L320.91,41.19 L319.01,38.79 Z" stroke="#2f7ec2" fill="none" stroke-width="1.0" />
<path d="M327.98,31.52 L329.88,33.92 L327.98,36.32 L326.08,33.92 Z" stroke="#2f7ec2" fill="none" stroke-width="1.0" />
<circle cx="250.21" cy="82.20" r="1.75" fill="#d9531e" stroke="none" stroke-width="1" />
<circle cx="257.28" cy="77.35" r="1.75" fill="#d9531e" stroke="none" stroke-width="1" />
<circle cx="264.35" cy="72.50" r="1.75" fill="#d9531e" stroke="none" stroke-width="1" />
<circle cx="271.42" cy="67.65" r="1.75" fill="#d9531e" stroke="none" stroke-width="1" />
<circle cx="278.49" cy="62.80" r="1.75" fill="#d9531e" stroke="none" stroke-width="1" />
<circle cx="285.56" cy="57.95" r="1.75" fill="#d9531e" stroke="none" stroke-width="1" />
<circle cx="292.63" cy="53.10" r="1.75" fill="#d9531e" stroke="none" stroke-width="1" />
<circle cx="299.70" cy="48.25" r="1.75" fill="#d9531e" stroke="none" stroke-width="1" />
<circle cx="306.77" cy="43.40" r="1.75" fill="#d9531e" stroke="none" stroke-width="1" />
<circle cx="313.84" cy="38.55" r="1.75" fill="#d9531e" stroke="none" stroke-width="1" />
<circle cx="320.91" cy="33.70" r="1.75" fill="#d9531e" stroke="none" stroke-width="1" />
<circle cx="327.98" cy="28.85" r="1.75" fill="#d9531e" stroke="none" stroke-width="1" />
<rect x="262.70" y="65.05" width="3.30" height="3.30" fill="#fcebc6" stroke="#f0b842" stroke-width="0.95" />
<rect x="269.77" y="60.27" width="3.30" height="3.30" fill="#fcebc6" stroke="#f0b842" stroke-width="0.95" />
<rect x="276.84" y="55.49" width="3.30" height="3.30" fill="#fcebc6" stroke="#f0b842" stroke-width="0.95" />
<rect x="283.91" y="50.71" width="3.30" height="3.30" fill="#fcebc6" stroke="#f0b842" stroke-width="0.95" />
<rect x="290.98" y="45.93" width="3.30" height="3.30" fill="#fcebc6" stroke="#f0b842" stroke-width="0.95" />
<rect x="298.05" y="41.15" width="3.30" height="3.30" fill="#fcebc6" stroke="#f0b842" stroke-width="0.95" />
<rect x="305.12" y="36.37" width="3.30" height="3.30" fill="#fcebc6" stroke="#f0b842" stroke-width="0.95" />
<rect x="312.19" y="31.59" width="3.30" height="3.30" fill="#fcebc6" stroke="#f0b842" stroke-width="0.95" />
<rect x="319.26" y="26.81" width="3.30" height="3.30" fill="#fcebc6" stroke="#f0b842" stroke-width="0.95" />
<rect x="326.33" y="22.03" width="3.30" height="3.30" fill="#fcebc6" stroke="#f0b842" stroke-width="0.95" />
<rect x="222.30" y="12.40" width="112.10" height="101.90" fill="none" stroke="#333" stroke-width="0.9" />
<line x1="229.00" y1="114.30" x2="229.00" y2="112.80" stroke="#333" stroke-width="0.8" />
<line x1="229.00" y1="12.40" x2="229.00" y2="13.90" stroke="#333" stroke-width="0.8" />
<text x="229.00" y="127.80" font-size="10" text-anchor="middle" font-weight="normal" font-style="normal" fill="#262626" >2</text>
<line x1="264.35" y1="114.30" x2="264.35" y2="112.80" stroke="#333" stroke-width="0.8" />
<line x1="264.35" y1="12.40" x2="264.35" y2="13.90" stroke="#333" stroke-width="0.8" />
<text x="264.35" y="127.80" font-size="10" text-anchor="middle" font-weight="normal" font-style="normal" fill="#262626" >7</text>
<line x1="299.70" y1="114.30" x2="299.70" y2="112.80" stroke="#333" stroke-width="0.8" />
<line x1="299.70" y1="12.40" x2="299.70" y2="13.90" stroke="#333" stroke-width="0.8" />
<text x="299.70" y="127.80" font-size="10" text-anchor="middle" font-weight="normal" font-style="normal" fill="#262626" >12</text>
<line x1="335.05" y1="114.30" x2="335.05" y2="112.80" stroke="#333" stroke-width="0.8" />
<line x1="335.05" y1="12.40" x2="335.05" y2="13.90" stroke="#333" stroke-width="0.8" />
<text x="335.05" y="127.80" font-size="10" text-anchor="middle" font-weight="normal" font-style="normal" fill="#262626" >17</text>
<line x1="222.30" y1="99.50" x2="223.80" y2="99.50" stroke="#333" stroke-width="0.8" />
<line x1="334.40" y1="99.50" x2="332.90" y2="99.50" stroke="#333" stroke-width="0.8" />
<line x1="222.30" y1="85.00" x2="223.80" y2="85.00" stroke="#333" stroke-width="0.8" />
<line x1="334.40" y1="85.00" x2="332.90" y2="85.00" stroke="#333" stroke-width="0.8" />
<line x1="222.30" y1="70.50" x2="223.80" y2="70.50" stroke="#333" stroke-width="0.8" />
<line x1="334.40" y1="70.50" x2="332.90" y2="70.50" stroke="#333" stroke-width="0.8" />
<line x1="222.30" y1="56.00" x2="223.80" y2="56.00" stroke="#333" stroke-width="0.8" />
<line x1="334.40" y1="56.00" x2="332.90" y2="56.00" stroke="#333" stroke-width="0.8" />
<line x1="222.30" y1="41.50" x2="223.80" y2="41.50" stroke="#333" stroke-width="0.8" />
<line x1="334.40" y1="41.50" x2="332.90" y2="41.50" stroke="#333" stroke-width="0.8" />
<line x1="222.30" y1="27.00" x2="223.80" y2="27.00" stroke="#333" stroke-width="0.8" />
<line x1="334.40" y1="27.00" x2="332.90" y2="27.00" stroke="#333" stroke-width="0.8" />
<line x1="222.30" y1="12.50" x2="223.80" y2="12.50" stroke="#333" stroke-width="0.8" />
<line x1="334.40" y1="12.50" x2="332.90" y2="12.50" stroke="#333" stroke-width="0.8" />
<text x="216.80" y="117.60" font-size="10" text-anchor="end" font-weight="normal" font-style="normal" fill="#262626" >0</text>
<text x="216.80" y="103.10" font-size="10" text-anchor="end" font-weight="normal" font-style="normal" fill="#262626" >0.5</text>
<text x="216.80" y="74.10" font-size="10" text-anchor="end" font-weight="normal" font-style="normal" fill="#262626" >1.5</text>
<text x="216.80" y="45.10" font-size="10" text-anchor="end" font-weight="normal" font-style="normal" fill="#262626" >2.5</text>
<text x="216.80" y="16.10" font-size="10" text-anchor="end" font-weight="normal" font-style="normal" fill="#262626" >3.5</text>
<path d="M235.70,19.20 L237.30,21.20 L235.70,23.20 L234.10,21.20 Z" stroke="#2f7ec2" fill="#8fc0ea" stroke-width="0.9" />
<circle cx="235.70" cy="26.30" r="1.50" fill="#d9531e" stroke="none" stroke-width="1" />
<rect x="234.20" y="30.00" width="3.00" height="3.00" fill="#fbe6b8" stroke="#edb120" stroke-width="0.9" />
<text x="241.40" y="22.70" font-size="6.0" text-anchor="start" font-weight="normal" font-style="normal" fill="#333" text-rendering="geometricPrecision"><tspan font-size="5.0">v=</tspan>1</text>
<text x="241.40" y="27.80" font-size="6.0" text-anchor="start" font-weight="normal" font-style="normal" fill="#333" text-rendering="geometricPrecision"><tspan font-size="5.0">v=</tspan>3</text>
<text x="241.40" y="33.00" font-size="6.0" text-anchor="start" font-weight="normal" font-style="normal" fill="#333" text-rendering="geometricPrecision"><tspan font-size="5.0">v=</tspan>5</text>
<text transform="translate(190.6,63.3) rotate(-90)" font-size="11.2" text-anchor="middle" fill="#262626">T<tspan font-size="8.4" dy="1.6">opt</tspan><tspan dy="-1.6">(ms)</tspan></text>
<text x="278.60" y="140.30" font-size="9" text-anchor="middle" font-weight="normal" font-style="normal" fill="#262626" >μ</text>
<path d="M229.30,225.93 L231.60,218.11 L232.92,225.93 L234.00,184.86 L235.21,215.18 L236.20,186.32 L237.57,225.93 L238.70,217.62 L240.41,225.93 L241.80,218.11 L243.12,225.93 L244.20,183.88 L245.41,215.18 L246.40,187.79 L247.77,225.93 L248.90,217.62 L250.60,225.93 L252.00,218.11 L253.32,225.93 L254.40,182.41 L255.61,215.18 L256.60,190.24 L257.98,225.93 L259.10,217.62 L260.81,225.93 L262.20,218.11 L263.52,225.93 L264.60,181.92 L265.81,215.18 L266.80,190.73 L268.18,225.93 L269.30,217.62 L271.00,225.93 L272.40,218.11 L273.72,225.93 L274.80,183.39 L276.01,215.18 L277.00,224.96 L277.20,225.93" stroke="#2e5fd8" fill="none" stroke-width="1.0" stroke-linejoin="round"/>
<path d="M284.60,225.93 L286.60,221.04 L287.70,226.42 L288.60,195.13 L290.14,217.62 L291.40,178.50 L292.77,217.62 L293.90,195.13 L295.27,226.42 L296.40,221.04 L297.98,226.42 L299.27,221.04 L300.37,226.42 L301.27,195.13 L302.81,217.62 L304.07,178.50 L305.44,217.62 L306.57,195.13 L307.94,226.42 L309.07,221.04 L310.65,226.42 L311.94,221.04 L313.04,226.42 L313.94,198.06 L315.48,217.62 L316.74,178.50 L318.11,217.62 L319.24,198.06 L320.61,226.42 L321.74,221.04 L323.32,226.42 L324.61,221.04 L325.71,226.42 L326.61,198.06 L328.15,217.62 L329.41,178.50 L332.20,225.93" stroke="#f08a2c" fill="none" stroke-width="1.0" stroke-linejoin="round"/>
<path d="M231.40,286.20 L231.40,284.75 L233.70,266.31 L236.20,246.43 L238.40,238.67 L241.30,245.94 L243.80,266.31 L245.90,284.75 L245.90,286.20 Z" stroke="none" fill="#2db83a" stroke-width="1" fill-opacity="0.2"/>
<path d="M248.85,286.20 L248.85,284.75 L251.15,266.31 L253.65,246.43 L255.85,238.67 L258.75,245.94 L261.25,266.31 L263.35,284.75 L263.35,286.20 Z" stroke="none" fill="#2db83a" stroke-width="1" fill-opacity="0.2"/>
<path d="M266.30,286.20 L266.30,284.75 L268.60,266.31 L271.10,246.43 L273.30,238.67 L276.20,245.94 L276.20,286.20 Z" stroke="none" fill="#2db83a" stroke-width="1" fill-opacity="0.2"/>
<path d="M229.40,284.75 L231.20,282.81 L232.57,285.23 L233.70,266.31 L235.08,284.75 L236.20,246.43 L237.41,282.81 L238.40,238.67 L240.00,282.81 L241.30,245.94 L242.68,282.81 L243.80,266.31 L245.61,284.75 L247.10,282.32 L248.53,285.23 L249.70,281.35 L250.50,285.23 L251.15,266.31 L252.53,284.75 L253.65,246.43 L254.86,282.81 L255.85,238.67 L257.44,282.81 L258.75,245.94 L260.12,282.81 L261.25,266.31 L263.06,284.75 L264.55,282.32 L265.98,285.23 L267.15,281.35 L267.95,285.23 L268.60,266.31 L269.98,284.75 L271.10,246.43 L272.31,282.81 L273.30,238.67 L274.89,282.81 L276.20,245.94 L276.60,284.75" stroke="#2db83a" fill="none" stroke-width="1.0" stroke-linejoin="round"/>
<path d="M286.90,286.20 L286.90,284.75 L288.90,273.10 L291.10,260.01 L293.40,243.03 L296.40,237.70 L298.90,243.03 L301.50,256.62 L304.00,273.10 L306.00,284.75 L306.00,286.20 Z" stroke="none" fill="#e0282f" stroke-width="1" fill-opacity="0.2"/>
<path d="M310.00,286.20 L310.00,284.75 L312.00,273.10 L314.20,260.01 L316.50,243.03 L319.50,237.70 L322.00,243.03 L324.60,256.62 L327.10,273.10 L329.10,284.75 L329.10,286.20 Z" stroke="none" fill="#e0282f" stroke-width="1" fill-opacity="0.2"/>
<path d="M284.60,284.75 L286.50,283.29 L287.82,285.23 L288.90,273.10 L290.11,284.75 L291.10,260.01 L292.37,283.29 L293.40,243.03 L295.05,283.29 L296.40,237.70 L297.77,283.29 L298.90,243.03 L300.33,283.29 L301.50,256.62 L302.88,283.29 L304.00,273.10 L305.59,284.75 L306.90,282.81 L308.16,285.23 L309.20,282.81 L310.74,285.23 L312.00,273.10 L313.21,284.75 L314.20,260.01 L315.47,283.29 L316.50,243.03 L318.15,283.29 L319.50,237.70 L320.88,283.29 L322.00,243.03 L323.43,283.29 L324.60,256.62 L325.98,283.29 L327.10,273.10 L328.42,284.75 L329.50,283.29 L331.80,284.75" stroke="#e0282f" fill="none" stroke-width="1.0" stroke-linejoin="round"/>
<line x1="228.40" y1="178.50" x2="276.20" y2="178.50" stroke="#bbb" stroke-width="0.6" stroke-dasharray="1.2,1.6"/>
<rect x="227.40" y="176.50" width="49.80" height="52.80" fill="none" stroke="#7a7a7a" stroke-width="1.0" />
<line x1="227.40" y1="227.40" x2="228.70" y2="227.40" stroke="#7a7a7a" stroke-width="0.7" />
<line x1="277.20" y1="227.40" x2="275.90" y2="227.40" stroke="#7a7a7a" stroke-width="0.7" />
<line x1="227.40" y1="202.95" x2="228.70" y2="202.95" stroke="#7a7a7a" stroke-width="0.7" />
<line x1="277.20" y1="202.95" x2="275.90" y2="202.95" stroke="#7a7a7a" stroke-width="0.7" />
<line x1="227.40" y1="178.50" x2="228.70" y2="178.50" stroke="#7a7a7a" stroke-width="0.7" />
<line x1="277.20" y1="178.50" x2="275.90" y2="178.50" stroke="#7a7a7a" stroke-width="0.7" />
<line x1="229.70" y1="229.30" x2="229.70" y2="228.00" stroke="#7a7a7a" stroke-width="0.7" />
<line x1="229.70" y1="176.50" x2="229.70" y2="177.80" stroke="#7a7a7a" stroke-width="0.7" />
<line x1="237.15" y1="229.30" x2="237.15" y2="228.00" stroke="#7a7a7a" stroke-width="0.7" />
<line x1="237.15" y1="176.50" x2="237.15" y2="177.80" stroke="#7a7a7a" stroke-width="0.7" />
<line x1="244.60" y1="229.30" x2="244.60" y2="228.00" stroke="#7a7a7a" stroke-width="0.7" />
<line x1="244.60" y1="176.50" x2="244.60" y2="177.80" stroke="#7a7a7a" stroke-width="0.7" />
<line x1="252.05" y1="229.30" x2="252.05" y2="228.00" stroke="#7a7a7a" stroke-width="0.7" />
<line x1="252.05" y1="176.50" x2="252.05" y2="177.80" stroke="#7a7a7a" stroke-width="0.7" />
<line x1="259.50" y1="229.30" x2="259.50" y2="228.00" stroke="#7a7a7a" stroke-width="0.7" />
<line x1="259.50" y1="176.50" x2="259.50" y2="177.80" stroke="#7a7a7a" stroke-width="0.7" />
<line x1="266.95" y1="229.30" x2="266.95" y2="228.00" stroke="#7a7a7a" stroke-width="0.7" />
<line x1="266.95" y1="176.50" x2="266.95" y2="177.80" stroke="#7a7a7a" stroke-width="0.7" />
<line x1="274.40" y1="229.30" x2="274.40" y2="228.00" stroke="#7a7a7a" stroke-width="0.7" />
<line x1="274.40" y1="176.50" x2="274.40" y2="177.80" stroke="#7a7a7a" stroke-width="0.7" />
<line x1="228.40" y1="237.70" x2="276.20" y2="237.70" stroke="#bbb" stroke-width="0.6" stroke-dasharray="1.2,1.6"/>
<rect x="227.40" y="235.40" width="49.80" height="53.80" fill="none" stroke="#7a7a7a" stroke-width="1.0" />
<line x1="227.40" y1="286.20" x2="228.70" y2="286.20" stroke="#7a7a7a" stroke-width="0.7" />
<line x1="277.20" y1="286.20" x2="275.90" y2="286.20" stroke="#7a7a7a" stroke-width="0.7" />
<line x1="227.40" y1="261.95" x2="228.70" y2="261.95" stroke="#7a7a7a" stroke-width="0.7" />
<line x1="277.20" y1="261.95" x2="275.90" y2="261.95" stroke="#7a7a7a" stroke-width="0.7" />
<line x1="227.40" y1="237.70" x2="228.70" y2="237.70" stroke="#7a7a7a" stroke-width="0.7" />
<line x1="277.20" y1="237.70" x2="275.90" y2="237.70" stroke="#7a7a7a" stroke-width="0.7" />
<line x1="229.70" y1="289.20" x2="229.70" y2="287.90" stroke="#7a7a7a" stroke-width="0.7" />
<line x1="229.70" y1="235.40" x2="229.70" y2="236.70" stroke="#7a7a7a" stroke-width="0.7" />
<line x1="237.15" y1="289.20" x2="237.15" y2="287.90" stroke="#7a7a7a" stroke-width="0.7" />
<line x1="237.15" y1="235.40" x2="237.15" y2="236.70" stroke="#7a7a7a" stroke-width="0.7" />
<line x1="244.60" y1="289.20" x2="244.60" y2="287.90" stroke="#7a7a7a" stroke-width="0.7" />
<line x1="244.60" y1="235.40" x2="244.60" y2="236.70" stroke="#7a7a7a" stroke-width="0.7" />
<line x1="252.05" y1="289.20" x2="252.05" y2="287.90" stroke="#7a7a7a" stroke-width="0.7" />
<line x1="252.05" y1="235.40" x2="252.05" y2="236.70" stroke="#7a7a7a" stroke-width="0.7" />
<line x1="259.50" y1="289.20" x2="259.50" y2="287.90" stroke="#7a7a7a" stroke-width="0.7" />
<line x1="259.50" y1="235.40" x2="259.50" y2="236.70" stroke="#7a7a7a" stroke-width="0.7" />
<line x1="266.95" y1="289.20" x2="266.95" y2="287.90" stroke="#7a7a7a" stroke-width="0.7" />
<line x1="266.95" y1="235.40" x2="266.95" y2="236.70" stroke="#7a7a7a" stroke-width="0.7" />
<line x1="274.40" y1="289.20" x2="274.40" y2="287.90" stroke="#7a7a7a" stroke-width="0.7" />
<line x1="274.40" y1="235.40" x2="274.40" y2="236.70" stroke="#7a7a7a" stroke-width="0.7" />
<line x1="283.80" y1="178.50" x2="331.20" y2="178.50" stroke="#bbb" stroke-width="0.6" stroke-dasharray="1.2,1.6"/>
<rect x="282.80" y="176.50" width="49.40" height="52.80" fill="none" stroke="#7a7a7a" stroke-width="1.0" />
<line x1="282.80" y1="227.40" x2="284.10" y2="227.40" stroke="#7a7a7a" stroke-width="0.7" />
<line x1="332.20" y1="227.40" x2="330.90" y2="227.40" stroke="#7a7a7a" stroke-width="0.7" />
<line x1="282.80" y1="202.95" x2="284.10" y2="202.95" stroke="#7a7a7a" stroke-width="0.7" />
<line x1="332.20" y1="202.95" x2="330.90" y2="202.95" stroke="#7a7a7a" stroke-width="0.7" />
<line x1="282.80" y1="178.50" x2="284.10" y2="178.50" stroke="#7a7a7a" stroke-width="0.7" />
<line x1="332.20" y1="178.50" x2="330.90" y2="178.50" stroke="#7a7a7a" stroke-width="0.7" />
<line x1="284.80" y1="229.30" x2="284.80" y2="228.00" stroke="#7a7a7a" stroke-width="0.7" />
<line x1="284.80" y1="176.50" x2="284.80" y2="177.80" stroke="#7a7a7a" stroke-width="0.7" />
<line x1="292.25" y1="229.30" x2="292.25" y2="228.00" stroke="#7a7a7a" stroke-width="0.7" />
<line x1="292.25" y1="176.50" x2="292.25" y2="177.80" stroke="#7a7a7a" stroke-width="0.7" />
<line x1="299.70" y1="229.30" x2="299.70" y2="228.00" stroke="#7a7a7a" stroke-width="0.7" />
<line x1="299.70" y1="176.50" x2="299.70" y2="177.80" stroke="#7a7a7a" stroke-width="0.7" />
<line x1="307.15" y1="229.30" x2="307.15" y2="228.00" stroke="#7a7a7a" stroke-width="0.7" />
<line x1="307.15" y1="176.50" x2="307.15" y2="177.80" stroke="#7a7a7a" stroke-width="0.7" />
<line x1="314.60" y1="229.30" x2="314.60" y2="228.00" stroke="#7a7a7a" stroke-width="0.7" />
<line x1="314.60" y1="176.50" x2="314.60" y2="177.80" stroke="#7a7a7a" stroke-width="0.7" />
<line x1="322.05" y1="229.30" x2="322.05" y2="228.00" stroke="#7a7a7a" stroke-width="0.7" />
<line x1="322.05" y1="176.50" x2="322.05" y2="177.80" stroke="#7a7a7a" stroke-width="0.7" />
<line x1="329.50" y1="229.30" x2="329.50" y2="228.00" stroke="#7a7a7a" stroke-width="0.7" />
<line x1="329.50" y1="176.50" x2="329.50" y2="177.80" stroke="#7a7a7a" stroke-width="0.7" />
<line x1="283.80" y1="237.70" x2="331.20" y2="237.70" stroke="#bbb" stroke-width="0.6" stroke-dasharray="1.2,1.6"/>
<rect x="282.80" y="235.40" width="49.40" height="53.80" fill="none" stroke="#7a7a7a" stroke-width="1.0" />
<line x1="282.80" y1="286.20" x2="284.10" y2="286.20" stroke="#7a7a7a" stroke-width="0.7" />
<line x1="332.20" y1="286.20" x2="330.90" y2="286.20" stroke="#7a7a7a" stroke-width="0.7" />
<line x1="282.80" y1="261.95" x2="284.10" y2="261.95" stroke="#7a7a7a" stroke-width="0.7" />
<line x1="332.20" y1="261.95" x2="330.90" y2="261.95" stroke="#7a7a7a" stroke-width="0.7" />
<line x1="282.80" y1="237.70" x2="284.10" y2="237.70" stroke="#7a7a7a" stroke-width="0.7" />
<line x1="332.20" y1="237.70" x2="330.90" y2="237.70" stroke="#7a7a7a" stroke-width="0.7" />
<line x1="284.80" y1="289.20" x2="284.80" y2="287.90" stroke="#7a7a7a" stroke-width="0.7" />
<line x1="284.80" y1="235.40" x2="284.80" y2="236.70" stroke="#7a7a7a" stroke-width="0.7" />
<line x1="292.25" y1="289.20" x2="292.25" y2="287.90" stroke="#7a7a7a" stroke-width="0.7" />
<line x1="292.25" y1="235.40" x2="292.25" y2="236.70" stroke="#7a7a7a" stroke-width="0.7" />
<line x1="299.70" y1="289.20" x2="299.70" y2="287.90" stroke="#7a7a7a" stroke-width="0.7" />
<line x1="299.70" y1="235.40" x2="299.70" y2="236.70" stroke="#7a7a7a" stroke-width="0.7" />
<line x1="307.15" y1="289.20" x2="307.15" y2="287.90" stroke="#7a7a7a" stroke-width="0.7" />
<line x1="307.15" y1="235.40" x2="307.15" y2="236.70" stroke="#7a7a7a" stroke-width="0.7" />
<line x1="314.60" y1="289.20" x2="314.60" y2="287.90" stroke="#7a7a7a" stroke-width="0.7" />
<line x1="314.60" y1="235.40" x2="314.60" y2="236.70" stroke="#7a7a7a" stroke-width="0.7" />
<line x1="322.05" y1="289.20" x2="322.05" y2="287.90" stroke="#7a7a7a" stroke-width="0.7" />
<line x1="322.05" y1="235.40" x2="322.05" y2="236.70" stroke="#7a7a7a" stroke-width="0.7" />
<line x1="329.50" y1="289.20" x2="329.50" y2="287.90" stroke="#7a7a7a" stroke-width="0.7" />
<line x1="329.50" y1="235.40" x2="329.50" y2="236.70" stroke="#7a7a7a" stroke-width="0.7" />
<text x="222.20" y="231.90" font-size="10" text-anchor="end" font-weight="normal" font-style="normal" fill="#262626" >0.0</text>
<text x="222.20" y="207.45" font-size="10" text-anchor="end" font-weight="normal" font-style="normal" fill="#262626" >0.5</text>
<text x="222.20" y="183.00" font-size="10" text-anchor="end" font-weight="normal" font-style="normal" fill="#262626" >1.0</text>
<text x="222.20" y="290.70" font-size="10" text-anchor="end" font-weight="normal" font-style="normal" fill="#262626" >0.0</text>
<text x="222.20" y="266.45" font-size="10" text-anchor="end" font-weight="normal" font-style="normal" fill="#262626" >0.5</text>
<text x="222.20" y="242.20" font-size="10" text-anchor="end" font-weight="normal" font-style="normal" fill="#262626" >1.0</text>
<text transform="translate(197.6,204.2) rotate(-90)" font-size="10" text-anchor="middle" fill="#262626">Population</text>
<text transform="translate(197.6,262.0) rotate(-90)" font-size="10" text-anchor="middle" fill="#262626">Population</text>
<text x="229.30" y="172.60" font-size="8.4" text-anchor="start" font-weight="normal" font-style="normal" fill="#262626" textLength="45.3" lengthAdjust="spacingAndGlyphs">(d1)(0.2π, π)</text>
<text x="280.00" y="172.60" font-size="8.4" text-anchor="start" font-weight="normal" font-style="normal" fill="#262626" textLength="55.2" lengthAdjust="spacingAndGlyphs">(d2)(0.442π, π)</text>
<text x="252.00" y="233.60" font-size="4.6" text-anchor="middle" font-weight="normal" font-style="normal" fill="#262626" >(d3) (0.492π, π)</text>
<text x="307.60" y="233.60" font-size="4.6" text-anchor="middle" font-weight="normal" font-style="normal" fill="#262626" >(d4) (0.711π, π)</text>
<text x="229.70" y="303.30" font-size="10" text-anchor="middle" font-weight="normal" font-style="normal" fill="#262626" >0</text>
<text x="244.60" y="303.30" font-size="10" text-anchor="middle" font-weight="normal" font-style="normal" fill="#262626" >1</text>
<text x="259.50" y="303.30" font-size="10" text-anchor="middle" font-weight="normal" font-style="normal" fill="#262626" >2</text>
<text x="274.40" y="303.30" font-size="10" text-anchor="middle" font-weight="normal" font-style="normal" fill="#262626" >3</text>
<text x="252.20" y="317.90" font-size="10.6" text-anchor="middle" font-weight="normal" font-style="normal" fill="#262626" >Time(ms)</text>
<text x="284.80" y="303.30" font-size="10" text-anchor="middle" font-weight="normal" font-style="normal" fill="#262626" >0</text>
<text x="299.70" y="303.30" font-size="10" text-anchor="middle" font-weight="normal" font-style="normal" fill="#262626" >1</text>
<text x="314.60" y="303.30" font-size="10" text-anchor="middle" font-weight="normal" font-style="normal" fill="#262626" >2</text>
<text x="329.50" y="303.30" font-size="10" text-anchor="middle" font-weight="normal" font-style="normal" fill="#262626" >3</text>
<text x="307.30" y="317.90" font-size="10.6" text-anchor="middle" font-weight="normal" font-style="normal" fill="#262626" >Time(ms)</text>
<rect x="237.50" y="288.40" width="2.00" height="1.50" fill="#d33" stroke="none" stroke-width="1" />
<rect x="295.10" y="288.40" width="2.00" height="1.50" fill="#d33" stroke="none" stroke-width="1" />
<rect x="290.70" y="228.60" width="1.80" height="1.40" fill="#d33" stroke="none" stroke-width="1" />
<rect x="385.00" y="8.80" width="105.50" height="112.10" fill="#3b4cc0" stroke="none" stroke-width="1" />
<rect x="385.00" y="8.80" width="105.50" height="0.70" fill="#1e2a7a" stroke="none" stroke-width="1" />
<rect x="385.00" y="13.90" width="105.50" height="2.30" fill="#1e2a7a" stroke="none" stroke-width="1" />
<rect x="385.00" y="14.30" width="105.50" height="1.50" fill="#686868" stroke="none" stroke-width="1" />
<rect x="385.00" y="20.11" width="105.50" height="2.30" fill="#1e2a7a" stroke="none" stroke-width="1" />
<rect x="385.00" y="20.51" width="105.50" height="1.50" fill="#707070" stroke="none" stroke-width="1" />
<rect x="385.00" y="26.32" width="105.50" height="2.30" fill="#1e2a7a" stroke="none" stroke-width="1" />
<rect x="385.00" y="26.72" width="105.50" height="1.50" fill="#9a9a9a" stroke="none" stroke-width="1" />
<rect x="385.00" y="32.53" width="105.50" height="2.30" fill="#1e2a7a" stroke="none" stroke-width="1" />
<rect x="385.00" y="32.93" width="105.50" height="1.50" fill="#acacac" stroke="none" stroke-width="1" />
<rect x="385.00" y="38.74" width="105.50" height="2.30" fill="#1e2a7a" stroke="none" stroke-width="1" />
<rect x="385.00" y="39.14" width="105.50" height="1.50" fill="#686868" stroke="none" stroke-width="1" />
<rect x="385.00" y="44.95" width="105.50" height="2.30" fill="#1e2a7a" stroke="none" stroke-width="1" />
<rect x="385.00" y="45.35" width="105.50" height="1.50" fill="#707070" stroke="none" stroke-width="1" />
<rect x="385.00" y="51.16" width="105.50" height="2.30" fill="#1e2a7a" stroke="none" stroke-width="1" />
<rect x="385.00" y="51.56" width="105.50" height="1.50" fill="#9a9a9a" stroke="none" stroke-width="1" />
<rect x="385.00" y="57.37" width="105.50" height="2.30" fill="#1e2a7a" stroke="none" stroke-width="1" />
<rect x="385.00" y="57.77" width="105.50" height="1.50" fill="#707070" stroke="none" stroke-width="1" />
<rect x="385.00" y="63.58" width="105.50" height="2.30" fill="#1e2a7a" stroke="none" stroke-width="1" />
<rect x="385.00" y="63.98" width="105.50" height="1.50" fill="#8a8a8a" stroke="none" stroke-width="1" />
<rect x="385.00" y="69.79" width="105.50" height="2.30" fill="#1e2a7a" stroke="none" stroke-width="1" />
<rect x="385.00" y="70.19" width="105.50" height="1.50" fill="#9a9a9a" stroke="none" stroke-width="1" />
<rect x="385.00" y="76.00" width="105.50" height="2.30" fill="#1e2a7a" stroke="none" stroke-width="1" />
<rect x="385.00" y="76.40" width="105.50" height="1.50" fill="#acacac" stroke="none" stroke-width="1" />
<rect x="385.00" y="82.21" width="105.50" height="2.30" fill="#1e2a7a" stroke="none" stroke-width="1" />
<rect x="385.00" y="82.61" width="105.50" height="1.50" fill="#686868" stroke="none" stroke-width="1" />
<rect x="385.00" y="88.42" width="105.50" height="2.30" fill="#1e2a7a" stroke="none" stroke-width="1" />
<rect x="385.00" y="88.82" width="105.50" height="1.50" fill="#9a9a9a" stroke="none" stroke-width="1" />
<rect x="385.00" y="94.63" width="105.50" height="2.30" fill="#1e2a7a" stroke="none" stroke-width="1" />
<rect x="385.00" y="95.03" width="105.50" height="1.50" fill="#707070" stroke="none" stroke-width="1" />
<rect x="385.00" y="100.84" width="105.50" height="2.30" fill="#1e2a7a" stroke="none" stroke-width="1" />
<rect x="385.00" y="101.24" width="105.50" height="1.50" fill="#8a8a8a" stroke="none" stroke-width="1" />
<rect x="385.00" y="107.05" width="105.50" height="2.30" fill="#1e2a7a" stroke="none" stroke-width="1" />
<rect x="385.00" y="107.45" width="105.50" height="1.50" fill="#9a9a9a" stroke="none" stroke-width="1" />
<rect x="385.00" y="113.26" width="105.50" height="2.30" fill="#1e2a7a" stroke="none" stroke-width="1" />
<rect x="385.00" y="113.66" width="105.50" height="1.50" fill="#686868" stroke="none" stroke-width="1" />
<rect x="385.00" y="120.30" width="105.50" height="0.60" fill="#1e2a7a" stroke="none" stroke-width="1" />
<ellipse cx="437.90" cy="12.03" rx="1.85" ry="1.05" fill="#e4e4f0" filter="url(#blur05)"/>
<ellipse cx="437.90" cy="12.03" rx="0.8" ry="0.5" fill="#e25c42"/>
<ellipse cx="432.60" cy="18.26" rx="1.4" ry="0.85" fill="#a4b0ec" filter="url(#blur05)"/>
<ellipse cx="437.90" cy="18.26" rx="1.85" ry="1.05" fill="#e4e4f0" filter="url(#blur05)"/>
<ellipse cx="437.90" cy="18.26" rx="0.8" ry="0.5" fill="#e25c42"/>
<ellipse cx="443.20" cy="18.26" rx="1.4" ry="0.85" fill="#a4b0ec" filter="url(#blur05)"/>
<ellipse cx="432.60" cy="24.47" rx="1.75" ry="1.0" fill="#e2dde6" filter="url(#blur05)"/>
<ellipse cx="432.60" cy="24.47" rx="0.9" ry="0.55" fill="#ea9a80"/>
<ellipse cx="443.20" cy="24.47" rx="1.5" ry="0.9" fill="#d0d4ee" filter="url(#blur05)"/>
<ellipse cx="448.50" cy="24.47" rx="1.1" ry="0.75" fill="#7a8ce0" opacity="0.7" filter="url(#blur05)"/>
<ellipse cx="432.60" cy="30.68" rx="1.5" ry="0.9" fill="#d0d4ee" filter="url(#blur05)"/>
<ellipse cx="437.90" cy="30.68" rx="1.85" ry="1.05" fill="#e4e4f0" filter="url(#blur05)"/>
<ellipse cx="437.90" cy="30.68" rx="0.8" ry="0.5" fill="#e25c42"/>
<ellipse cx="443.20" cy="30.68" rx="1.1" ry="0.75" fill="#7a8ce0" opacity="0.7" filter="url(#blur05)"/>
<ellipse cx="448.50" cy="30.68" rx="1.5" ry="0.9" fill="#d0d4ee" filter="url(#blur05)"/>
<ellipse cx="453.80" cy="30.68" rx="1.1" ry="0.75" fill="#7a8ce0" opacity="0.7" filter="url(#blur05)"/>
<ellipse cx="437.90" cy="36.88" rx="1.85" ry="1.05" fill="#e4e4f0" filter="url(#blur05)"/>
<ellipse cx="437.90" cy="36.88" rx="0.8" ry="0.5" fill="#e25c42"/>
<ellipse cx="443.20" cy="36.88" rx="1.5" ry="0.9" fill="#d0d4ee" filter="url(#blur05)"/>
<ellipse cx="453.80" cy="36.88" rx="1.4" ry="0.85" fill="#a4b0ec" filter="url(#blur05)"/>
<ellipse cx="432.60" cy="43.10" rx="1.1" ry="0.75" fill="#7a8ce0" opacity="0.7" filter="url(#blur05)"/>
<ellipse cx="437.90" cy="43.10" rx="1.1" ry="0.75" fill="#7a8ce0" opacity="0.7" filter="url(#blur05)"/>
<ellipse cx="443.20" cy="43.10" rx="1.5" ry="0.9" fill="#d0d4ee" filter="url(#blur05)"/>
<ellipse cx="448.50" cy="43.10" rx="1.75" ry="1.0" fill="#e2dde6" filter="url(#blur05)"/>
<ellipse cx="448.50" cy="43.10" rx="0.9" ry="0.55" fill="#ea9a80"/>
<ellipse cx="432.60" cy="49.30" rx="1.1" ry="0.75" fill="#7a8ce0" opacity="0.7" filter="url(#blur05)"/>
<ellipse cx="437.90" cy="49.30" rx="1.4" ry="0.85" fill="#a4b0ec" filter="url(#blur05)"/>
<ellipse cx="443.20" cy="49.30" rx="1.4" ry="0.85" fill="#a4b0ec" filter="url(#blur05)"/>
<ellipse cx="448.50" cy="49.30" rx="1.85" ry="1.05" fill="#e4e4f0" filter="url(#blur05)"/>
<ellipse cx="448.50" cy="49.30" rx="0.8" ry="0.5" fill="#e25c42"/>
<ellipse cx="453.80" cy="49.30" rx="1.1" ry="0.75" fill="#7a8ce0" opacity="0.7" filter="url(#blur05)"/>
<ellipse cx="437.90" cy="55.52" rx="1.4" ry="0.85" fill="#a4b0ec" filter="url(#blur05)"/>
<ellipse cx="443.20" cy="55.52" rx="1.5" ry="0.9" fill="#d0d4ee" filter="url(#blur05)"/>
<ellipse cx="448.50" cy="55.52" rx="1.1" ry="0.75" fill="#7a8ce0" opacity="0.7" filter="url(#blur05)"/>
<ellipse cx="453.80" cy="55.52" rx="1.85" ry="1.05" fill="#e4e4f0" filter="url(#blur05)"/>
<ellipse cx="453.80" cy="55.52" rx="0.8" ry="0.5" fill="#e25c42"/>
<ellipse cx="432.60" cy="61.73" rx="1.1" ry="0.75" fill="#7a8ce0" opacity="0.7" filter="url(#blur05)"/>
<ellipse cx="437.90" cy="61.73" rx="1.4" ry="0.85" fill="#a4b0ec" filter="url(#blur05)"/>
<ellipse cx="443.20" cy="61.73" rx="1.5" ry="0.9" fill="#d0d4ee" filter="url(#blur05)"/>
<ellipse cx="448.50" cy="61.73" rx="1.85" ry="1.05" fill="#e4e4f0" filter="url(#blur05)"/>
<ellipse cx="448.50" cy="61.73" rx="0.8" ry="0.5" fill="#e25c42"/>
<ellipse cx="453.80" cy="61.73" rx="1.5" ry="0.9" fill="#d0d4ee" filter="url(#blur05)"/>
<ellipse cx="443.20" cy="67.94" rx="1.1" ry="0.75" fill="#7a8ce0" opacity="0.7" filter="url(#blur05)"/>
<ellipse cx="448.50" cy="67.94" rx="1.85" ry="1.05" fill="#e4e4f0" filter="url(#blur05)"/>
<ellipse cx="448.50" cy="67.94" rx="0.8" ry="0.5" fill="#e25c42"/>
<ellipse cx="453.80" cy="67.94" rx="1.1" ry="0.75" fill="#7a8ce0" opacity="0.7" filter="url(#blur05)"/>
<ellipse cx="437.90" cy="74.14" rx="1.1" ry="0.75" fill="#7a8ce0" opacity="0.7" filter="url(#blur05)"/>
<ellipse cx="443.20" cy="74.14" rx="1.75" ry="1.0" fill="#e2dde6" filter="url(#blur05)"/>
<ellipse cx="443.20" cy="74.14" rx="0.9" ry="0.55" fill="#ea9a80"/>
<ellipse cx="448.50" cy="74.14" rx="1.85" ry="1.05" fill="#e4e4f0" filter="url(#blur05)"/>
<ellipse cx="448.50" cy="74.14" rx="0.8" ry="0.5" fill="#e25c42"/>
<ellipse cx="453.80" cy="74.14" rx="1.4" ry="0.85" fill="#a4b0ec" filter="url(#blur05)"/>
<ellipse cx="437.90" cy="80.35" rx="1.1" ry="0.75" fill="#7a8ce0" opacity="0.7" filter="url(#blur05)"/>
<ellipse cx="443.20" cy="80.35" rx="1.85" ry="1.05" fill="#e4e4f0" filter="url(#blur05)"/>
<ellipse cx="443.20" cy="80.35" rx="0.8" ry="0.5" fill="#e25c42"/>
<ellipse cx="448.50" cy="80.35" rx="1.5" ry="0.9" fill="#d0d4ee" filter="url(#blur05)"/>
<ellipse cx="453.80" cy="80.35" rx="1.4" ry="0.85" fill="#a4b0ec" filter="url(#blur05)"/>
<ellipse cx="459.10" cy="80.35" rx="1.1" ry="0.75" fill="#7a8ce0" opacity="0.7" filter="url(#blur05)"/>
<ellipse cx="443.20" cy="86.56" rx="1.1" ry="0.75" fill="#7a8ce0" opacity="0.7" filter="url(#blur05)"/>
<ellipse cx="448.50" cy="86.56" rx="1.85" ry="1.05" fill="#e4e4f0" filter="url(#blur05)"/>
<ellipse cx="448.50" cy="86.56" rx="0.8" ry="0.5" fill="#e25c42"/>
<ellipse cx="453.80" cy="86.56" rx="1.5" ry="0.9" fill="#d0d4ee" filter="url(#blur05)"/>
<ellipse cx="459.10" cy="86.56" rx="1.1" ry="0.75" fill="#7a8ce0" opacity="0.7" filter="url(#blur05)"/>
<ellipse cx="437.90" cy="92.77" rx="1.1" ry="0.75" fill="#7a8ce0" opacity="0.7" filter="url(#blur05)"/>
<ellipse cx="443.20" cy="92.77" rx="1.1" ry="0.75" fill="#7a8ce0" opacity="0.7" filter="url(#blur05)"/>
<ellipse cx="448.50" cy="92.77" rx="1.4" ry="0.85" fill="#a4b0ec" filter="url(#blur05)"/>
<ellipse cx="453.80" cy="92.77" rx="1.75" ry="1.0" fill="#e2dde6" filter="url(#blur05)"/>
<ellipse cx="453.80" cy="92.77" rx="0.9" ry="0.55" fill="#ea9a80"/>
<ellipse cx="459.10" cy="92.77" rx="1.1" ry="0.75" fill="#7a8ce0" opacity="0.7" filter="url(#blur05)"/>
<ellipse cx="437.90" cy="98.98" rx="1.1" ry="0.75" fill="#7a8ce0" opacity="0.7" filter="url(#blur05)"/>
<ellipse cx="443.20" cy="98.98" rx="1.4" ry="0.85" fill="#a4b0ec" filter="url(#blur05)"/>
<ellipse cx="448.50" cy="98.98" rx="1.1" ry="0.75" fill="#7a8ce0" opacity="0.7" filter="url(#blur05)"/>
<ellipse cx="453.80" cy="98.98" rx="1.5" ry="0.9" fill="#d0d4ee" filter="url(#blur05)"/>
<ellipse cx="459.10" cy="98.98" rx="1.85" ry="1.05" fill="#e4e4f0" filter="url(#blur05)"/>
<ellipse cx="459.10" cy="98.98" rx="0.8" ry="0.5" fill="#e25c42"/>
<ellipse cx="437.90" cy="105.19" rx="1.1" ry="0.75" fill="#7a8ce0" opacity="0.7" filter="url(#blur05)"/>
<ellipse cx="443.20" cy="105.19" rx="1.1" ry="0.75" fill="#7a8ce0" opacity="0.7" filter="url(#blur05)"/>
<ellipse cx="448.50" cy="105.19" rx="1.1" ry="0.75" fill="#7a8ce0" opacity="0.7" filter="url(#blur05)"/>
<ellipse cx="459.10" cy="105.19" rx="1.85" ry="1.05" fill="#e4e4f0" filter="url(#blur05)"/>
<ellipse cx="459.10" cy="105.19" rx="0.8" ry="0.5" fill="#e25c42"/>
<ellipse cx="464.40" cy="105.19" rx="1.75" ry="1.0" fill="#e2dde6" filter="url(#blur05)"/>
<ellipse cx="464.40" cy="105.19" rx="0.9" ry="0.55" fill="#ea9a80"/>
<ellipse cx="443.20" cy="111.41" rx="1.1" ry="0.75" fill="#7a8ce0" opacity="0.7" filter="url(#blur05)"/>
<ellipse cx="448.50" cy="111.41" rx="1.4" ry="0.85" fill="#a4b0ec" filter="url(#blur05)"/>
<ellipse cx="453.80" cy="111.41" rx="1.5" ry="0.9" fill="#d0d4ee" filter="url(#blur05)"/>
<ellipse cx="464.40" cy="111.41" rx="1.85" ry="1.05" fill="#e4e4f0" filter="url(#blur05)"/>
<ellipse cx="464.40" cy="111.41" rx="0.8" ry="0.5" fill="#e25c42"/>
<ellipse cx="437.90" cy="117.75" rx="1.1" ry="0.75" fill="#7a8ce0" opacity="0.7" filter="url(#blur05)"/>
<ellipse cx="443.20" cy="117.75" rx="1.1" ry="0.75" fill="#7a8ce0" opacity="0.7" filter="url(#blur05)"/>
<ellipse cx="448.50" cy="117.75" rx="1.1" ry="0.75" fill="#7a8ce0" opacity="0.7" filter="url(#blur05)"/>
<ellipse cx="453.80" cy="117.75" rx="1.5" ry="0.9" fill="#d0d4ee" filter="url(#blur05)"/>
<ellipse cx="459.10" cy="117.75" rx="1.75" ry="1.0" fill="#e2dde6" filter="url(#blur05)"/>
<ellipse cx="459.10" cy="117.75" rx="0.9" ry="0.55" fill="#ea9a80"/>
<ellipse cx="464.40" cy="117.75" rx="1.1" ry="0.75" fill="#7a8ce0" opacity="0.7" filter="url(#blur05)"/>
<text x="487.60" y="13.90" font-size="6.3" text-anchor="end" font-weight="bold" font-style="italic" fill="#f2f2f8" >Right</text>
<rect x="386.80" y="177.30" width="105.00" height="111.80" fill="#3b4cc0" stroke="none" stroke-width="1" />
<rect x="386.80" y="177.30" width="105.00" height="0.70" fill="#1e2a7a" stroke="none" stroke-width="1" />
<rect x="386.80" y="182.30" width="105.00" height="2.30" fill="#1e2a7a" stroke="none" stroke-width="1" />
<rect x="386.80" y="182.70" width="105.00" height="1.50" fill="#a8a8a8" stroke="none" stroke-width="1" />
<rect x="386.80" y="188.56" width="105.00" height="2.30" fill="#1e2a7a" stroke="none" stroke-width="1" />
<rect x="386.80" y="188.96" width="105.00" height="1.50" fill="#8a8a8a" stroke="none" stroke-width="1" />
<rect x="386.80" y="194.82" width="105.00" height="2.30" fill="#1e2a7a" stroke="none" stroke-width="1" />
<rect x="386.80" y="195.22" width="105.00" height="1.50" fill="#5e5e6a" stroke="none" stroke-width="1" />
<rect x="386.80" y="201.08" width="105.00" height="2.30" fill="#1e2a7a" stroke="none" stroke-width="1" />
<rect x="386.80" y="201.48" width="105.00" height="1.50" fill="#9a9a9a" stroke="none" stroke-width="1" />
<rect x="386.80" y="207.34" width="105.00" height="2.30" fill="#1e2a7a" stroke="none" stroke-width="1" />
<rect x="386.80" y="207.74" width="105.00" height="1.50" fill="#acacac" stroke="none" stroke-width="1" />
<rect x="386.80" y="213.60" width="105.00" height="2.30" fill="#1e2a7a" stroke="none" stroke-width="1" />
<rect x="386.80" y="214.00" width="105.00" height="1.50" fill="#707070" stroke="none" stroke-width="1" />
<rect x="386.80" y="219.86" width="105.00" height="2.30" fill="#1e2a7a" stroke="none" stroke-width="1" />
<rect x="386.80" y="220.26" width="105.00" height="1.50" fill="#8a8a8a" stroke="none" stroke-width="1" />
<rect x="386.80" y="226.12" width="105.00" height="2.30" fill="#1e2a7a" stroke="none" stroke-width="1" />
<rect x="386.80" y="226.52" width="105.00" height="1.50" fill="#686868" stroke="none" stroke-width="1" />
<rect x="386.80" y="232.38" width="105.00" height="2.30" fill="#1e2a7a" stroke="none" stroke-width="1" />
<rect x="386.80" y="232.78" width="105.00" height="1.50" fill="#9a9a9a" stroke="none" stroke-width="1" />
<rect x="386.80" y="238.64" width="105.00" height="2.30" fill="#1e2a7a" stroke="none" stroke-width="1" />
<rect x="386.80" y="239.04" width="105.00" height="1.50" fill="#707070" stroke="none" stroke-width="1" />
<rect x="386.80" y="244.90" width="105.00" height="2.30" fill="#1e2a7a" stroke="none" stroke-width="1" />
<rect x="386.80" y="245.30" width="105.00" height="1.50" fill="#a8a8a8" stroke="none" stroke-width="1" />
<rect x="386.80" y="251.16" width="105.00" height="2.30" fill="#1e2a7a" stroke="none" stroke-width="1" />
<rect x="386.80" y="251.56" width="105.00" height="1.50" fill="#9a9a9a" stroke="none" stroke-width="1" />
<rect x="386.80" y="257.42" width="105.00" height="2.30" fill="#1e2a7a" stroke="none" stroke-width="1" />
<rect x="386.80" y="257.82" width="105.00" height="1.50" fill="#686868" stroke="none" stroke-width="1" />
<rect x="386.80" y="263.68" width="105.00" height="2.30" fill="#1e2a7a" stroke="none" stroke-width="1" />
<rect x="386.80" y="264.08" width="105.00" height="1.50" fill="#8a8a8a" stroke="none" stroke-width="1" />
<rect x="386.80" y="269.94" width="105.00" height="2.30" fill="#1e2a7a" stroke="none" stroke-width="1" />
<rect x="386.80" y="270.34" width="105.00" height="1.50" fill="#9a9a9a" stroke="none" stroke-width="1" />
<rect x="386.80" y="276.20" width="105.00" height="2.30" fill="#1e2a7a" stroke="none" stroke-width="1" />
<rect x="386.80" y="276.60" width="105.00" height="1.50" fill="#707070" stroke="none" stroke-width="1" />
<rect x="386.80" y="282.46" width="105.00" height="2.30" fill="#1e2a7a" stroke="none" stroke-width="1" />
<rect x="386.80" y="282.86" width="105.00" height="1.50" fill="#9a9a9a" stroke="none" stroke-width="1" />
<rect x="386.80" y="288.50" width="105.00" height="0.60" fill="#1e2a7a" stroke="none" stroke-width="1" />
<ellipse cx="450.30" cy="180.47" rx="1.85" ry="1.05" fill="#e4e4f0" filter="url(#blur05)"/>
<ellipse cx="450.30" cy="180.47" rx="0.8" ry="0.5" fill="#e25c42"/>
<ellipse cx="444.50" cy="186.68" rx="1.4" ry="0.85" fill="#a4b0ec" filter="url(#blur05)"/>
<ellipse cx="450.30" cy="186.68" rx="1.85" ry="1.05" fill="#e4e4f0" filter="url(#blur05)"/>
<ellipse cx="450.30" cy="186.68" rx="0.8" ry="0.5" fill="#e25c42"/>
<ellipse cx="456.10" cy="186.68" rx="1.4" ry="0.85" fill="#a4b0ec" filter="url(#blur05)"/>
<ellipse cx="444.50" cy="192.94" rx="1.75" ry="1.0" fill="#e2dde6" filter="url(#blur05)"/>
<ellipse cx="444.50" cy="192.94" rx="0.9" ry="0.55" fill="#ea9a80"/>
<ellipse cx="456.10" cy="192.94" rx="1.75" ry="1.0" fill="#e2dde6" filter="url(#blur05)"/>
<ellipse cx="456.10" cy="192.94" rx="0.9" ry="0.55" fill="#ea9a80"/>
<ellipse cx="432.90" cy="199.20" rx="1.1" ry="0.75" fill="#7a8ce0" opacity="0.7" filter="url(#blur05)"/>
<ellipse cx="444.50" cy="199.20" rx="1.1" ry="0.75" fill="#7a8ce0" opacity="0.7" filter="url(#blur05)"/>
<ellipse cx="450.30" cy="199.20" rx="1.85" ry="1.05" fill="#e4e4f0" filter="url(#blur05)"/>
<ellipse cx="450.30" cy="199.20" rx="0.8" ry="0.5" fill="#e25c42"/>
<ellipse cx="456.10" cy="199.20" rx="1.1" ry="0.75" fill="#7a8ce0" opacity="0.7" filter="url(#blur05)"/>
<ellipse cx="461.90" cy="199.20" rx="1.1" ry="0.75" fill="#7a8ce0" opacity="0.7" filter="url(#blur05)"/>
<ellipse cx="432.90" cy="205.46" rx="1.1" ry="0.75" fill="#7a8ce0" opacity="0.7" filter="url(#blur05)"/>
<ellipse cx="444.50" cy="205.46" rx="1.5" ry="0.9" fill="#d0d4ee" filter="url(#blur05)"/>
<ellipse cx="450.30" cy="205.46" rx="1.85" ry="1.05" fill="#e4e4f0" filter="url(#blur05)"/>
<ellipse cx="450.30" cy="205.46" rx="0.8" ry="0.5" fill="#e25c42"/>
<ellipse cx="461.90" cy="205.46" rx="1.1" ry="0.75" fill="#7a8ce0" opacity="0.7" filter="url(#blur05)"/>
<ellipse cx="438.70" cy="211.72" rx="1.85" ry="1.05" fill="#e4e4f0" filter="url(#blur05)"/>
<ellipse cx="438.70" cy="211.72" rx="0.8" ry="0.5" fill="#e25c42"/>
<ellipse cx="444.50" cy="211.72" rx="1.5" ry="0.9" fill="#d0d4ee" filter="url(#blur05)"/>
<ellipse cx="456.10" cy="211.72" rx="1.4" ry="0.85" fill="#a4b0ec" filter="url(#blur05)"/>
<ellipse cx="432.90" cy="217.98" rx="1.4" ry="0.85" fill="#a4b0ec" filter="url(#blur05)"/>
<ellipse cx="438.70" cy="217.98" rx="1.85" ry="1.05" fill="#e4e4f0" filter="url(#blur05)"/>
<ellipse cx="438.70" cy="217.98" rx="0.8" ry="0.5" fill="#e25c42"/>
<ellipse cx="450.30" cy="217.98" rx="1.4" ry="0.85" fill="#a4b0ec" filter="url(#blur05)"/>
<ellipse cx="456.10" cy="217.98" rx="1.1" ry="0.75" fill="#7a8ce0" opacity="0.7" filter="url(#blur05)"/>
<ellipse cx="432.90" cy="224.24" rx="1.85" ry="1.05" fill="#e4e4f0" filter="url(#blur05)"/>
<ellipse cx="432.90" cy="224.24" rx="0.8" ry="0.5" fill="#e25c42"/>
<ellipse cx="444.50" cy="224.24" rx="1.1" ry="0.75" fill="#7a8ce0" opacity="0.7" filter="url(#blur05)"/>
<ellipse cx="450.30" cy="224.24" rx="1.1" ry="0.75" fill="#7a8ce0" opacity="0.7" filter="url(#blur05)"/>
<ellipse cx="432.90" cy="230.50" rx="1.1" ry="0.75" fill="#7a8ce0" opacity="0.7" filter="url(#blur05)"/>
<ellipse cx="438.70" cy="230.50" rx="1.85" ry="1.05" fill="#e4e4f0" filter="url(#blur05)"/>
<ellipse cx="438.70" cy="230.50" rx="0.8" ry="0.5" fill="#e25c42"/>
<ellipse cx="444.50" cy="230.50" rx="1.5" ry="0.9" fill="#d0d4ee" filter="url(#blur05)"/>
<ellipse cx="456.10" cy="230.50" rx="1.1" ry="0.75" fill="#7a8ce0" opacity="0.7" filter="url(#blur05)"/>
<ellipse cx="438.70" cy="236.76" rx="1.85" ry="1.05" fill="#e4e4f0" filter="url(#blur05)"/>
<ellipse cx="438.70" cy="236.76" rx="0.8" ry="0.5" fill="#e25c42"/>
<ellipse cx="444.50" cy="236.76" rx="1.4" ry="0.85" fill="#a4b0ec" filter="url(#blur05)"/>
<ellipse cx="432.90" cy="243.02" rx="1.4" ry="0.85" fill="#a4b0ec" filter="url(#blur05)"/>
<ellipse cx="438.70" cy="243.02" rx="1.4" ry="0.85" fill="#a4b0ec" filter="url(#blur05)"/>
<ellipse cx="444.50" cy="243.02" rx="1.85" ry="1.05" fill="#e4e4f0" filter="url(#blur05)"/>
<ellipse cx="444.50" cy="243.02" rx="0.8" ry="0.5" fill="#e25c42"/>
<ellipse cx="450.30" cy="243.02" rx="1.1" ry="0.75" fill="#7a8ce0" opacity="0.7" filter="url(#blur05)"/>
<ellipse cx="456.10" cy="243.02" rx="1.1" ry="0.75" fill="#7a8ce0" opacity="0.7" filter="url(#blur05)"/>
<ellipse cx="432.90" cy="249.28" rx="1.1" ry="0.75" fill="#7a8ce0" opacity="0.7" filter="url(#blur05)"/>
<ellipse cx="438.70" cy="249.28" rx="1.85" ry="1.05" fill="#e4e4f0" filter="url(#blur05)"/>
<ellipse cx="438.70" cy="249.28" rx="0.8" ry="0.5" fill="#e25c42"/>
<ellipse cx="444.50" cy="249.28" rx="1.85" ry="1.05" fill="#e4e4f0" filter="url(#blur05)"/>
<ellipse cx="444.50" cy="249.28" rx="0.8" ry="0.5" fill="#e25c42"/>
<ellipse cx="450.30" cy="249.28" rx="1.4" ry="0.85" fill="#a4b0ec" filter="url(#blur05)"/>
<ellipse cx="456.10" cy="249.28" rx="1.5" ry="0.9" fill="#d0d4ee" filter="url(#blur05)"/>
<ellipse cx="438.70" cy="255.54" rx="1.85" ry="1.05" fill="#e4e4f0" filter="url(#blur05)"/>
<ellipse cx="438.70" cy="255.54" rx="0.8" ry="0.5" fill="#e25c42"/>
<ellipse cx="444.50" cy="255.54" rx="1.1" ry="0.75" fill="#7a8ce0" opacity="0.7" filter="url(#blur05)"/>
<ellipse cx="450.30" cy="255.54" rx="1.4" ry="0.85" fill="#a4b0ec" filter="url(#blur05)"/>
<ellipse cx="456.10" cy="255.54" rx="1.4" ry="0.85" fill="#a4b0ec" filter="url(#blur05)"/>
<ellipse cx="427.10" cy="261.80" rx="1.75" ry="1.0" fill="#e2dde6" filter="url(#blur05)"/>
<ellipse cx="427.10" cy="261.80" rx="0.9" ry="0.55" fill="#ea9a80"/>
<ellipse cx="432.90" cy="261.80" rx="1.5" ry="0.9" fill="#d0d4ee" filter="url(#blur05)"/>
<ellipse cx="438.70" cy="261.80" rx="1.4" ry="0.85" fill="#a4b0ec" filter="url(#blur05)"/>
<ellipse cx="444.50" cy="261.80" rx="1.5" ry="0.9" fill="#d0d4ee" filter="url(#blur05)"/>
<ellipse cx="427.10" cy="268.06" rx="1.85" ry="1.05" fill="#e4e4f0" filter="url(#blur05)"/>
<ellipse cx="427.10" cy="268.06" rx="0.8" ry="0.5" fill="#e25c42"/>
<ellipse cx="432.90" cy="268.06" rx="1.1" ry="0.75" fill="#7a8ce0" opacity="0.7" filter="url(#blur05)"/>
<ellipse cx="438.70" cy="268.06" rx="1.4" ry="0.85" fill="#a4b0ec" filter="url(#blur05)"/>
<ellipse cx="444.50" cy="268.06" rx="1.4" ry="0.85" fill="#a4b0ec" filter="url(#blur05)"/>
<ellipse cx="450.30" cy="268.06" rx="1.1" ry="0.75" fill="#7a8ce0" opacity="0.7" filter="url(#blur05)"/>
<ellipse cx="421.30" cy="274.32" rx="1.85" ry="1.05" fill="#e4e4f0" filter="url(#blur05)"/>
<ellipse cx="421.30" cy="274.32" rx="0.8" ry="0.5" fill="#e25c42"/>
<ellipse cx="427.10" cy="274.32" rx="1.1" ry="0.75" fill="#7a8ce0" opacity="0.7" filter="url(#blur05)"/>
<ellipse cx="432.90" cy="274.32" rx="1.4" ry="0.85" fill="#a4b0ec" filter="url(#blur05)"/>
<ellipse cx="438.70" cy="274.32" rx="1.85" ry="1.05" fill="#e4e4f0" filter="url(#blur05)"/>
<ellipse cx="438.70" cy="274.32" rx="0.8" ry="0.5" fill="#e25c42"/>
<ellipse cx="444.50" cy="274.32" rx="1.5" ry="0.9" fill="#d0d4ee" filter="url(#blur05)"/>
<ellipse cx="450.30" cy="274.32" rx="1.1" ry="0.75" fill="#7a8ce0" opacity="0.7" filter="url(#blur05)"/>
<ellipse cx="421.30" cy="280.58" rx="1.85" ry="1.05" fill="#e4e4f0" filter="url(#blur05)"/>
<ellipse cx="421.30" cy="280.58" rx="0.8" ry="0.5" fill="#e25c42"/>
<ellipse cx="427.10" cy="280.58" rx="1.4" ry="0.85" fill="#a4b0ec" filter="url(#blur05)"/>
<ellipse cx="432.90" cy="280.58" rx="1.1" ry="0.75" fill="#7a8ce0" opacity="0.7" filter="url(#blur05)"/>
<ellipse cx="438.70" cy="280.58" rx="1.5" ry="0.9" fill="#d0d4ee" filter="url(#blur05)"/>
<ellipse cx="444.50" cy="280.58" rx="1.5" ry="0.9" fill="#d0d4ee" filter="url(#blur05)"/>
<ellipse cx="427.10" cy="286.46" rx="1.85" ry="1.05" fill="#e4e4f0" filter="url(#blur05)"/>
<ellipse cx="427.10" cy="286.46" rx="0.8" ry="0.5" fill="#e25c42"/>
<ellipse cx="432.90" cy="286.46" rx="1.4" ry="0.85" fill="#a4b0ec" filter="url(#blur05)"/>
<ellipse cx="444.50" cy="286.46" rx="1.1" ry="0.75" fill="#7a8ce0" opacity="0.7" filter="url(#blur05)"/>
<text x="490.90" y="182.60" font-size="6.6" text-anchor="end" font-weight="bold" font-style="italic" fill="#f2f2f8" >Left</text>
<line x1="384.30" y1="8.40" x2="384.30" y2="122.40" stroke="#707070" stroke-width="1.4" />
<line x1="383.00" y1="8.40" x2="385.60" y2="8.40" stroke="#555" stroke-width="0.7" />
<path d="M382.40,121.80 L384.30,125.20 L386.20,121.80 Z" stroke="none" fill="#111" stroke-width="1" />
<line x1="383.20" y1="11.60" x2="384.40" y2="11.60" stroke="#555" stroke-width="0.6" />
<line x1="383.20" y1="24.20" x2="384.40" y2="24.20" stroke="#555" stroke-width="0.6" />
<line x1="383.20" y1="36.80" x2="384.40" y2="36.80" stroke="#555" stroke-width="0.6" />
<line x1="383.20" y1="49.40" x2="384.40" y2="49.40" stroke="#555" stroke-width="0.6" />
<line x1="383.20" y1="62.00" x2="384.40" y2="62.00" stroke="#555" stroke-width="0.6" />
<line x1="383.20" y1="74.60" x2="384.40" y2="74.60" stroke="#555" stroke-width="0.6" />
<line x1="383.20" y1="87.20" x2="384.40" y2="87.20" stroke="#555" stroke-width="0.6" />
<line x1="383.20" y1="99.80" x2="384.40" y2="99.80" stroke="#555" stroke-width="0.6" />
<line x1="383.20" y1="112.40" x2="384.40" y2="112.40" stroke="#555" stroke-width="0.6" />
<text x="378.60" y="16.10" font-size="10" text-anchor="end" font-weight="normal" font-style="normal" fill="#262626" >0</text>
<text x="378.60" y="41.30" font-size="10" text-anchor="end" font-weight="normal" font-style="normal" fill="#262626" >0.2</text>
<text x="378.60" y="66.50" font-size="10" text-anchor="end" font-weight="normal" font-style="normal" fill="#262626" >0.4</text>
<text x="378.60" y="91.70" font-size="10" text-anchor="end" font-weight="normal" font-style="normal" fill="#262626" >0.6</text>
<text x="378.60" y="116.90" font-size="10" text-anchor="end" font-weight="normal" font-style="normal" fill="#262626" >0.8</text>
<text x="382.40" y="133.60" font-size="10" text-anchor="end" font-weight="normal" font-style="normal" fill="#262626" >t(ms)</text>
<text x="395.20" y="134.50" font-size="10" text-anchor="middle" font-weight="normal" font-style="normal" fill="#262626" >-4</text>
<text x="405.95" y="134.50" font-size="10" text-anchor="middle" font-weight="normal" font-style="normal" fill="#262626" >-3</text>
<text x="416.70" y="134.50" font-size="10" text-anchor="middle" font-weight="normal" font-style="normal" fill="#262626" >-2</text>
<text x="427.45" y="134.50" font-size="10" text-anchor="middle" font-weight="normal" font-style="normal" fill="#262626" >-1</text>
<text x="438.20" y="134.50" font-size="10" text-anchor="middle" font-weight="normal" font-style="normal" fill="#262626" >0</text>
<text x="448.95" y="134.50" font-size="10" text-anchor="middle" font-weight="normal" font-style="normal" fill="#262626" >1</text>
<text x="459.70" y="134.50" font-size="10" text-anchor="middle" font-weight="normal" font-style="normal" fill="#262626" >2</text>
<text x="470.45" y="134.50" font-size="10" text-anchor="middle" font-weight="normal" font-style="normal" fill="#262626" >3</text>
<text x="481.20" y="134.50" font-size="10" text-anchor="middle" font-weight="normal" font-style="normal" fill="#262626" >4</text>
<text x="441.70" y="149.10" font-size="10" text-anchor="middle" font-weight="normal" font-style="normal" fill="#262626" >N</text>
<rect x="493.30" y="13.10" width="4.10" height="101.00" fill="url(#cbar)" stroke="none" stroke-width="1" />
<line x1="497.40" y1="13.10" x2="499.20" y2="13.10" stroke="#333" stroke-width="0.6" />
<line x1="497.40" y1="114.10" x2="499.20" y2="114.10" stroke="#333" stroke-width="0.6" />
<text x="503.80" y="16.80" font-size="10" text-anchor="start" font-weight="normal" font-style="normal" fill="#262626" >1</text>
<text x="504.00" y="118.00" font-size="10" text-anchor="start" font-weight="normal" font-style="normal" fill="#262626" >0</text>
<text x="490.50" y="123.70" font-size="10" fill="#262626">ρ<tspan font-size="7" dy="-3.2">/</tspan><tspan font-size="10" dy="3.2">ρ</tspan><tspan font-size="6.5" dy="2.2">1</tspan></text>
<line x1="386.10" y1="176.90" x2="386.10" y2="290.60" stroke="#707070" stroke-width="1.4" />
<line x1="384.80" y1="176.90" x2="387.40" y2="176.90" stroke="#555" stroke-width="0.7" />
<path d="M384.20,290.00 L386.10,293.40 L388.00,290.00 Z" stroke="none" fill="#111" stroke-width="1" />
<line x1="385.00" y1="180.60" x2="386.20" y2="180.60" stroke="#555" stroke-width="0.6" />
<line x1="385.00" y1="193.09" x2="386.20" y2="193.09" stroke="#555" stroke-width="0.6" />
<line x1="385.00" y1="205.58" x2="386.20" y2="205.58" stroke="#555" stroke-width="0.6" />
<line x1="385.00" y1="218.07" x2="386.20" y2="218.07" stroke="#555" stroke-width="0.6" />
<line x1="385.00" y1="230.56" x2="386.20" y2="230.56" stroke="#555" stroke-width="0.6" />
<line x1="385.00" y1="243.05" x2="386.20" y2="243.05" stroke="#555" stroke-width="0.6" />
<line x1="385.00" y1="255.54" x2="386.20" y2="255.54" stroke="#555" stroke-width="0.6" />
<line x1="385.00" y1="268.03" x2="386.20" y2="268.03" stroke="#555" stroke-width="0.6" />
<line x1="385.00" y1="280.52" x2="386.20" y2="280.52" stroke="#555" stroke-width="0.6" />
<text x="379.60" y="185.10" font-size="10" text-anchor="end" font-weight="normal" font-style="normal" fill="#262626" >0</text>
<text x="379.60" y="210.08" font-size="10" text-anchor="end" font-weight="normal" font-style="normal" fill="#262626" >0.2</text>
<text x="379.60" y="235.06" font-size="10" text-anchor="end" font-weight="normal" font-style="normal" fill="#262626" >0.4</text>
<text x="379.60" y="260.04" font-size="10" text-anchor="end" font-weight="normal" font-style="normal" fill="#262626" >0.6</text>
<text x="379.60" y="285.02" font-size="10" text-anchor="end" font-weight="normal" font-style="normal" fill="#262626" >0.8</text>
<text x="386.60" y="302.20" font-size="10" text-anchor="end" font-weight="normal" font-style="normal" fill="#262626" >t(ms)</text>
<text x="397.40" y="303.10" font-size="10" text-anchor="middle" font-weight="normal" font-style="normal" fill="#262626" >-4</text>
<text x="408.10" y="303.10" font-size="10" text-anchor="middle" font-weight="normal" font-style="normal" fill="#262626" >-3</text>
<text x="418.80" y="303.10" font-size="10" text-anchor="middle" font-weight="normal" font-style="normal" fill="#262626" >-2</text>
<text x="429.50" y="303.10" font-size="10" text-anchor="middle" font-weight="normal" font-style="normal" fill="#262626" >-1</text>
<text x="440.20" y="303.10" font-size="10" text-anchor="middle" font-weight="normal" font-style="normal" fill="#262626" >0</text>
<text x="450.90" y="303.10" font-size="10" text-anchor="middle" font-weight="normal" font-style="normal" fill="#262626" >1</text>
<text x="461.60" y="303.10" font-size="10" text-anchor="middle" font-weight="normal" font-style="normal" fill="#262626" >2</text>
<text x="472.30" y="303.10" font-size="10" text-anchor="middle" font-weight="normal" font-style="normal" fill="#262626" >3</text>
<text x="483.00" y="303.10" font-size="10" text-anchor="middle" font-weight="normal" font-style="normal" fill="#262626" >4</text>
<text x="443.70" y="317.70" font-size="10" text-anchor="middle" font-weight="normal" font-style="normal" fill="#262626" >N</text>
<rect x="494.70" y="182.10" width="4.30" height="100.40" fill="url(#cbar)" stroke="none" stroke-width="1" />
<line x1="499.00" y1="182.10" x2="500.80" y2="182.10" stroke="#333" stroke-width="0.6" />
<line x1="499.00" y1="282.50" x2="500.80" y2="282.50" stroke="#333" stroke-width="0.6" />
<text x="505.40" y="185.80" font-size="10" text-anchor="start" font-weight="normal" font-style="normal" fill="#262626" >1</text>
<text x="505.60" y="286.40" font-size="10" text-anchor="start" font-weight="normal" font-style="normal" fill="#262626" >0</text>
<text x="491.90" y="292.10" font-size="10" fill="#262626">ρ<tspan font-size="7" dy="-3.2">/</tspan><tspan font-size="10" dy="3.2">ρ</tspan><tspan font-size="6.5" dy="2.2">1</tspan></text>
<line x1="569.60" y1="15.50" x2="673.60" y2="109.90" stroke="#3d86e0" stroke-width="1.65" />
<line x1="569.60" y1="109.90" x2="673.60" y2="15.50" stroke="#d9464c" stroke-width="1.65" />
<rect x="569.60" y="15.50" width="104.00" height="94.40" fill="none" stroke="#444" stroke-width="0.9" />
<line x1="569.60" y1="39.10" x2="571.10" y2="39.10" stroke="#444" stroke-width="0.7" />
<line x1="673.60" y1="39.10" x2="672.10" y2="39.10" stroke="#444" stroke-width="0.7" />
<line x1="569.60" y1="62.70" x2="571.10" y2="62.70" stroke="#444" stroke-width="0.7" />
<line x1="673.60" y1="62.70" x2="672.10" y2="62.70" stroke="#444" stroke-width="0.7" />
<line x1="569.60" y1="86.30" x2="571.10" y2="86.30" stroke="#444" stroke-width="0.7" />
<line x1="673.60" y1="86.30" x2="672.10" y2="86.30" stroke="#444" stroke-width="0.7" />
<line x1="595.60" y1="109.90" x2="595.60" y2="108.40" stroke="#444" stroke-width="0.7" />
<line x1="595.60" y1="15.50" x2="595.60" y2="17.00" stroke="#444" stroke-width="0.7" />
<line x1="621.60" y1="109.90" x2="621.60" y2="108.40" stroke="#444" stroke-width="0.7" />
<line x1="621.60" y1="15.50" x2="621.60" y2="17.00" stroke="#444" stroke-width="0.7" />
<line x1="647.60" y1="109.90" x2="647.60" y2="108.40" stroke="#444" stroke-width="0.7" />
<line x1="647.60" y1="15.50" x2="647.60" y2="17.00" stroke="#444" stroke-width="0.7" />
<text x="564.40" y="19.70" font-size="9.8" text-anchor="end" font-weight="normal" font-style="normal" fill="#262626" ><tspan font-family="Liberation Serif" font-size="10.5">Ω</tspan>/2</text>
<text x="564.40" y="113.20" font-size="9.8" text-anchor="end" font-weight="normal" font-style="normal" fill="#262626" >-<tspan font-family="Liberation Serif" font-size="10.5">Ω</tspan>/2</text>
<text x="563.80" y="65.00" font-size="7" text-anchor="end" font-weight="normal" font-style="normal" fill="#262626" >0</text>
<text x="573.70" y="123.10" font-size="9.5" text-anchor="middle" font-weight="normal" font-style="normal" fill="#262626" >-<tspan font-family="Liberation Serif" font-size="10.2">π</tspan></text>
<text x="621.60" y="123.40" font-size="9.5" text-anchor="middle" font-weight="normal" font-style="normal" fill="#262626" >0</text>
<text x="668.00" y="123.10" font-size="9.5" text-anchor="middle" font-weight="normal" font-style="normal" fill="#262626" ><tspan font-family="Liberation Serif" font-size="10.2">π</tspan></text>
<text x="621.60" y="139.20" font-size="9.5" text-anchor="middle" font-weight="normal" font-style="normal" fill="#262626" >k</text>
<text transform="translate(534.0,63.3) rotate(-90)" font-size="10.1" text-anchor="middle" fill="#262626">Quasi energy</text>
<line x1="634.70" y1="53.70" x2="634.70" y2="46.26" stroke="#c8202f" stroke-width="1.8" />
<path d="M632.50,47.10 L634.70,42.90 L636.90,47.10 Z" stroke="none" fill="#c8202f" stroke-width="1" />
<line x1="606.30" y1="44.80" x2="606.30" y2="52.82" stroke="#2b3a9c" stroke-width="1.8" />
<path d="M603.90,51.90 L606.30,56.50 L608.70,51.90 Z" stroke="none" fill="#2b3a9c" stroke-width="1" />
<clipPath id="hclip"><rect x="560" y="175" width="125" height="120"/></clipPath>
<path d="M569.10,233.60 C569.63,232.27 571.30,227.87 572.30,225.60 C573.30,223.33 574.17,221.72 575.10,220.00 C576.03,218.28 576.97,216.55 577.90,215.30 C578.83,214.05 579.77,213.12 580.70,212.50 C581.63,211.88 582.57,211.28 583.50,211.60 C584.43,211.92 585.37,213.15 586.30,214.40 C587.23,215.65 588.17,217.78 589.10,219.10 C590.03,220.42 590.97,221.98 591.90,222.30 C592.83,222.62 593.77,222.00 594.70,221.00 C595.63,220.00 596.57,217.87 597.50,216.30 C598.43,214.73 599.37,212.92 600.30,211.60 C601.23,210.28 602.17,208.87 603.10,208.40 C604.03,207.93 604.97,208.52 605.90,208.80 C606.83,209.08 607.77,209.48 608.70,210.10 C609.63,210.72 610.57,211.85 611.50,212.50 C612.43,213.15 613.37,214.00 614.30,214.00 C615.23,214.00 616.17,213.37 617.10,212.50 C618.03,211.63 618.97,209.80 619.90,208.80 C620.83,207.80 621.68,206.70 622.70,206.50 C623.72,206.30 624.95,207.08 626.00,207.60 C627.05,208.12 627.98,208.97 629.00,209.60 C630.02,210.23 631.10,211.27 632.10,211.40 C633.10,211.53 633.90,211.30 635.00,210.40 C636.10,209.50 637.47,207.52 638.70,206.00 C639.93,204.48 641.18,202.27 642.40,201.30 C643.62,200.33 644.90,200.48 646.00,200.20 C647.10,199.92 648.03,199.92 649.00,199.60 C649.97,199.28 650.72,199.40 651.80,198.30 C652.88,197.20 654.27,194.67 655.50,193.00 C656.73,191.33 657.95,189.25 659.20,188.30 C660.45,187.35 661.75,187.08 663.00,187.30 C664.25,187.52 665.62,188.92 666.70,189.60 C667.78,190.28 668.57,191.47 669.50,191.40 C670.43,191.33 671.22,190.50 672.30,189.20 C673.38,187.90 674.75,185.10 676.00,183.60 C677.25,182.10 678.70,180.67 679.80,180.20 C680.90,179.73 681.65,180.00 682.60,180.80 C683.55,181.60 685.02,184.30 685.50,185.00" stroke="#d9464c" fill="none" stroke-width="1.0" clip-path="url(#hclip)"/>
<path d="M568.80,234.20 C569.28,235.27 570.73,238.42 571.70,240.60 C572.67,242.78 573.63,245.38 574.60,247.30 C575.57,249.22 576.38,250.82 577.50,252.10 C578.62,253.38 580.18,254.83 581.30,255.00 C582.42,255.17 583.07,254.07 584.20,253.10 C585.33,252.13 586.80,250.32 588.10,249.20 C589.40,248.08 590.88,246.55 592.00,246.40 C593.12,246.25 593.85,247.02 594.80,248.30 C595.75,249.58 596.73,252.33 597.70,254.10 C598.67,255.87 599.47,257.93 600.60,258.90 C601.73,259.87 603.20,260.05 604.50,259.90 C605.80,259.75 607.12,258.97 608.40,258.00 C609.68,257.03 611.08,254.92 612.20,254.10 C613.32,253.28 613.97,252.78 615.10,253.10 C616.23,253.42 617.87,254.87 619.00,256.00 C620.13,257.13 620.90,259.30 621.90,259.90 C622.90,260.50 623.97,260.02 625.00,259.60 C626.03,259.18 626.90,257.93 628.10,257.40 C629.30,256.87 630.85,255.90 632.20,256.40 C633.55,256.90 634.85,259.05 636.20,260.40 C637.55,261.75 638.95,263.42 640.30,264.50 C641.65,265.58 642.95,266.40 644.30,266.90 C645.65,267.40 647.05,266.73 648.40,267.50 C649.75,268.27 651.05,269.98 652.40,271.50 C653.75,273.02 655.15,275.15 656.50,276.60 C657.85,278.05 659.15,279.70 660.50,280.20 C661.85,280.70 663.25,280.03 664.60,279.60 C665.95,279.17 667.25,277.50 668.60,277.60 C669.95,277.70 671.35,278.85 672.70,280.20 C674.05,281.55 675.53,284.38 676.70,285.70 C677.87,287.02 678.68,287.93 679.70,288.10 C680.72,288.27 681.83,287.55 682.80,286.70 C683.77,285.85 685.05,283.62 685.50,283.00" stroke="#3d86e0" fill="none" stroke-width="1.05" clip-path="url(#hclip)"/>
<path d="M569.10,231.20 L570.90,233.60 L569.10,236.00 L567.30,233.60 Z" stroke="#d9464c" fill="none" stroke-width="0.85" />
<path d="M575.40,218.20 L577.20,220.60 L575.40,223.00 L573.60,220.60 Z" stroke="#d9464c" fill="none" stroke-width="0.85" />
<path d="M582.00,211.10 L583.80,213.50 L582.00,215.90 L580.20,213.50 Z" stroke="#d9464c" fill="none" stroke-width="0.85" />
<path d="M588.50,211.10 L590.30,213.50 L588.50,215.90 L586.70,213.50 Z" stroke="#d9464c" fill="none" stroke-width="0.85" />
<path d="M595.10,212.90 L596.90,215.30 L595.10,217.70 L593.30,215.30 Z" stroke="#d9464c" fill="none" stroke-width="0.85" />
<path d="M601.60,207.30 L603.40,209.70 L601.60,212.10 L599.80,209.70 Z" stroke="#d9464c" fill="none" stroke-width="0.85" />
<path d="M608.10,205.50 L609.90,207.90 L608.10,210.30 L606.30,207.90 Z" stroke="#d9464c" fill="none" stroke-width="0.85" />
<path d="M614.70,204.90 L616.50,207.30 L614.70,209.70 L612.90,207.30 Z" stroke="#d9464c" fill="none" stroke-width="0.85" />
<path d="M621.00,204.00 L622.80,206.40 L621.00,208.80 L619.20,206.40 Z" stroke="#d9464c" fill="none" stroke-width="0.85" />
<path d="M627.50,199.50 L629.30,201.90 L627.50,204.30 L625.70,201.90 Z" stroke="#d9464c" fill="none" stroke-width="0.85" />
<path d="M634.00,199.50 L635.80,201.90 L634.00,204.30 L632.20,201.90 Z" stroke="#d9464c" fill="none" stroke-width="0.85" />
<path d="M640.50,197.60 L642.30,200.00 L640.50,202.40 L638.70,200.00 Z" stroke="#d9464c" fill="none" stroke-width="0.85" />
<path d="M647.10,193.70 L648.90,196.10 L647.10,198.50 L645.30,196.10 Z" stroke="#d9464c" fill="none" stroke-width="0.85" />
<path d="M652.10,197.60 L653.90,200.00 L652.10,202.40 L650.30,200.00 Z" stroke="#d9464c" fill="none" stroke-width="0.85" />
<path d="M658.30,193.00 L660.10,195.40 L658.30,197.80 L656.50,195.40 Z" stroke="#d9464c" fill="none" stroke-width="0.85" />
<path d="M664.80,189.00 L666.60,191.40 L664.80,193.80 L663.00,191.40 Z" stroke="#d9464c" fill="none" stroke-width="0.85" />
<path d="M671.40,191.10 L673.20,193.50 L671.40,195.90 L669.60,193.50 Z" stroke="#d9464c" fill="none" stroke-width="0.85" />
<path d="M677.90,187.20 L679.70,189.60 L677.90,192.00 L676.10,189.60 Z" stroke="#d9464c" fill="none" stroke-width="0.85" />
<path d="M568.80,231.80 L570.60,234.20 L568.80,236.60 L567.00,234.20 Z" stroke="#3d86e0" fill="none" stroke-width="0.85" />
<path d="M575.50,246.50 L577.30,248.90 L575.50,251.30 L573.70,248.90 Z" stroke="#3d86e0" fill="none" stroke-width="0.85" />
<path d="M581.90,252.10 L583.70,254.50 L581.90,256.90 L580.10,254.50 Z" stroke="#3d86e0" fill="none" stroke-width="0.85" />
<path d="M588.50,252.60 L590.30,255.00 L588.50,257.40 L586.70,255.00 Z" stroke="#3d86e0" fill="none" stroke-width="0.85" />
<path d="M594.80,252.10 L596.60,254.50 L594.80,256.90 L593.00,254.50 Z" stroke="#3d86e0" fill="none" stroke-width="0.85" />
<path d="M601.60,257.90 L603.40,260.30 L601.60,262.70 L599.80,260.30 Z" stroke="#3d86e0" fill="none" stroke-width="0.85" />
<path d="M607.80,258.40 L609.60,260.80 L607.80,263.20 L606.00,260.80 Z" stroke="#3d86e0" fill="none" stroke-width="0.85" />
<path d="M614.20,257.10 L616.00,259.50 L614.20,261.90 L612.40,259.50 Z" stroke="#3d86e0" fill="none" stroke-width="0.85" />
<path d="M621.00,258.80 L622.80,261.20 L621.00,263.60 L619.20,261.20 Z" stroke="#3d86e0" fill="none" stroke-width="0.85" />
<path d="M627.50,260.40 L629.30,262.80 L627.50,265.20 L625.70,262.80 Z" stroke="#3d86e0" fill="none" stroke-width="0.85" />
<path d="M633.80,258.00 L635.60,260.40 L633.80,262.80 L632.00,260.40 Z" stroke="#3d86e0" fill="none" stroke-width="0.85" />
<path d="M640.30,262.10 L642.10,264.50 L640.30,266.90 L638.50,264.50 Z" stroke="#3d86e0" fill="none" stroke-width="0.85" />
<path d="M646.70,262.70 L648.50,265.10 L646.70,267.50 L644.90,265.10 Z" stroke="#3d86e0" fill="none" stroke-width="0.85" />
<path d="M651.80,267.70 L653.60,270.10 L651.80,272.50 L650.00,270.10 Z" stroke="#3d86e0" fill="none" stroke-width="0.85" />
<path d="M658.50,268.50 L660.30,270.90 L658.50,273.30 L656.70,270.90 Z" stroke="#3d86e0" fill="none" stroke-width="0.85" />
<path d="M665.00,267.10 L666.80,269.50 L665.00,271.90 L663.20,269.50 Z" stroke="#3d86e0" fill="none" stroke-width="0.85" />
<path d="M671.60,269.10 L673.40,271.50 L671.60,273.90 L669.80,271.50 Z" stroke="#3d86e0" fill="none" stroke-width="0.85" />
<path d="M678.10,269.10 L679.90,271.50 L678.10,273.90 L676.30,271.50 Z" stroke="#3d86e0" fill="none" stroke-width="0.85" />
<line x1="652.10" y1="196.00" x2="652.10" y2="204.00" stroke="#d9464c" stroke-width="0.7" />
<line x1="658.50" y1="266.90" x2="658.50" y2="274.90" stroke="#3d86e0" stroke-width="0.7" />
<line x1="633.80" y1="256.40" x2="633.80" y2="264.40" stroke="#3d86e0" stroke-width="0.7" />
<rect x="562.40" y="179.20" width="119.90" height="109.50" fill="none" stroke="#444" stroke-width="0.9" />
<line x1="562.40" y1="181.10" x2="563.90" y2="181.10" stroke="#444" stroke-width="0.7" />
<line x1="682.30" y1="181.10" x2="680.80" y2="181.10" stroke="#444" stroke-width="0.7" />
<text x="557.60" y="185.50" font-size="10" text-anchor="end" font-weight="normal" font-style="normal" fill="#262626" >2</text>
<line x1="562.40" y1="207.70" x2="563.90" y2="207.70" stroke="#444" stroke-width="0.7" />
<line x1="682.30" y1="207.70" x2="680.80" y2="207.70" stroke="#444" stroke-width="0.7" />
<text x="557.60" y="212.10" font-size="10" text-anchor="end" font-weight="normal" font-style="normal" fill="#262626" >1</text>
<line x1="562.40" y1="234.30" x2="563.90" y2="234.30" stroke="#444" stroke-width="0.7" />
<line x1="682.30" y1="234.30" x2="680.80" y2="234.30" stroke="#444" stroke-width="0.7" />
<text x="557.60" y="238.70" font-size="10" text-anchor="end" font-weight="normal" font-style="normal" fill="#262626" >0</text>
<line x1="562.40" y1="260.90" x2="563.90" y2="260.90" stroke="#444" stroke-width="0.7" />
<line x1="682.30" y1="260.90" x2="680.80" y2="260.90" stroke="#444" stroke-width="0.7" />
<text x="557.60" y="265.30" font-size="10" text-anchor="end" font-weight="normal" font-style="normal" fill="#262626" >-1</text>
<line x1="562.40" y1="287.50" x2="563.90" y2="287.50" stroke="#444" stroke-width="0.7" />
<line x1="682.30" y1="287.50" x2="680.80" y2="287.50" stroke="#444" stroke-width="0.7" />
<text x="557.60" y="291.90" font-size="10" text-anchor="end" font-weight="normal" font-style="normal" fill="#262626" >-2</text>
<line x1="568.60" y1="288.70" x2="568.60" y2="287.20" stroke="#444" stroke-width="0.7" />
<line x1="568.60" y1="179.20" x2="568.60" y2="180.70" stroke="#444" stroke-width="0.7" />
<text x="569.10" y="303.20" font-size="10" text-anchor="middle" font-weight="normal" font-style="normal" fill="#262626" >0</text>
<line x1="594.32" y1="288.70" x2="594.32" y2="287.20" stroke="#444" stroke-width="0.7" />
<line x1="594.32" y1="179.20" x2="594.32" y2="180.70" stroke="#444" stroke-width="0.7" />
<text x="594.82" y="303.20" font-size="10" text-anchor="middle" font-weight="normal" font-style="normal" fill="#262626" >0.2</text>
<line x1="620.04" y1="288.70" x2="620.04" y2="287.20" stroke="#444" stroke-width="0.7" />
<line x1="620.04" y1="179.20" x2="620.04" y2="180.70" stroke="#444" stroke-width="0.7" />
<text x="620.54" y="303.20" font-size="10" text-anchor="middle" font-weight="normal" font-style="normal" fill="#262626" >0.4</text>
<line x1="645.76" y1="288.70" x2="645.76" y2="287.20" stroke="#444" stroke-width="0.7" />
<line x1="645.76" y1="179.20" x2="645.76" y2="180.70" stroke="#444" stroke-width="0.7" />
<text x="646.26" y="303.20" font-size="10" text-anchor="middle" font-weight="normal" font-style="normal" fill="#262626" >0.6</text>
<line x1="671.48" y1="288.70" x2="671.48" y2="287.20" stroke="#444" stroke-width="0.7" />
<line x1="671.48" y1="179.20" x2="671.48" y2="180.70" stroke="#444" stroke-width="0.7" />
<text x="671.98" y="303.20" font-size="10" text-anchor="middle" font-weight="normal" font-style="normal" fill="#262626" >0.8</text>
<text x="626.60" y="293.00" font-size="4.6" text-anchor="start" font-weight="normal" font-style="italic" fill="#333" >T/2</text>
<text x="678.60" y="293.00" font-size="4.6" text-anchor="start" font-weight="normal" font-style="italic" fill="#333" >T</text>
<circle cx="623.60" cy="288.70" r="1.00" fill="#111" stroke="none" stroke-width="1" />
<circle cx="677.50" cy="288.70" r="1.00" fill="#111" stroke="none" stroke-width="1" />
<text x="622.00" y="317.80" font-size="10" text-anchor="middle" font-weight="normal" font-style="normal" fill="#262626" >Time (ms)</text>
<text transform="translate(540.4,234) rotate(-90)" font-size="10" text-anchor="middle" fill="#262626">D(t)</text>
<path d="M572.0,185.6 L573.4,188.0 L572.0,190.4 L570.6,188.0 Z" stroke="#d9464c" fill="#e79a9c" stroke-width="0.6" />
<path d="M572.0,192.6 L573.4,195.0 L572.0,197.4 L570.6,195.0 Z" stroke="#3d86e0" fill="#9cc2f0" stroke-width="0.6" />
<line x1="567.00" y1="201.40" x2="578.20" y2="201.40" stroke="#d9464c" stroke-width="0.9" />
<line x1="567.00" y1="207.40" x2="578.20" y2="207.40" stroke="#7fb0ee" stroke-width="1.1" />
<text x="580.30" y="190.00" font-size="7.3" text-anchor="start" font-weight="normal" font-style="normal" fill="#262626" >Right</text>
<text x="580.30" y="196.90" font-size="7.3" text-anchor="start" font-weight="normal" font-style="normal" fill="#262626" >Left</text>
<text x="580.30" y="203.90" font-size="7.3" text-anchor="start" font-weight="normal" font-style="normal" fill="#262626" >Num.</text>
<text x="580.30" y="209.90" font-size="7.3" text-anchor="start" font-weight="normal" font-style="normal" fill="#262626" >Num.</text>
</svg>
</body></html>
